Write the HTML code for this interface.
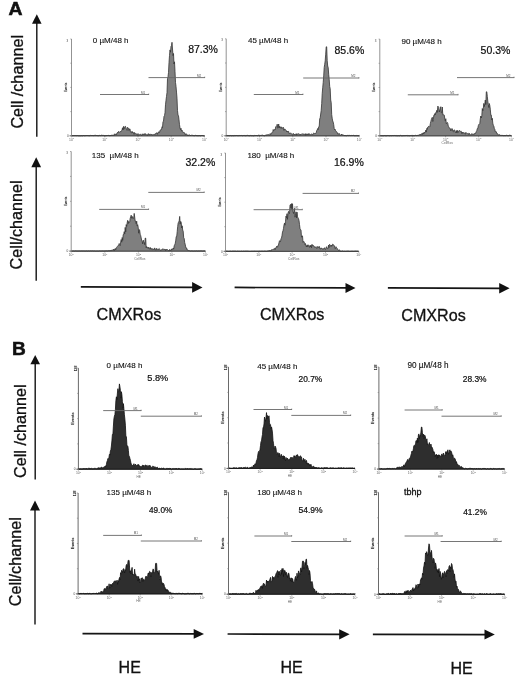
<!DOCTYPE html><html><head><meta charset="utf-8"><style>html,body{margin:0;padding:0;background:#fff;width:520px;height:676px;overflow:hidden}svg{display:block;filter:grayscale(1) blur(0.3px)}</style></head><body>
<svg width="520" height="676" viewBox="0 0 520 676" font-family="'Liberation Sans', sans-serif">
<rect width="520" height="676" fill="#fff"/>
<text transform="translate(8.6,15.0) scale(1.06,1)" font-size="18.3" font-weight="bold" fill="#111" stroke="#111" stroke-width="0.55">A</text>
<text transform="translate(11.9,354.5) scale(1.06,1)" font-size="18" font-weight="bold" fill="#111" stroke="#111" stroke-width="0.55">B</text>
<line x1="36.8" y1="22.8" x2="36.8" y2="136.7" stroke="#111" stroke-width="1.4"/>
<polygon points="36.8,14.2 32.0,23.8 41.6,23.8" fill="#111"/>
<line x1="36.2" y1="166.3" x2="36.2" y2="280.8" stroke="#111" stroke-width="1.4"/>
<polygon points="36.2,157.2 31.3,167.3 41.1,167.3" fill="#111"/>
<line x1="35.2" y1="363.3" x2="35.2" y2="479.4" stroke="#111" stroke-width="1.4"/>
<polygon points="35.2,355.0 30.4,364.3 40.0,364.3" fill="#111"/>
<line x1="35.0" y1="509.5" x2="35.0" y2="624.5" stroke="#111" stroke-width="1.4"/>
<polygon points="35.0,500.4 30.0,510.5 40.0,510.5" fill="#111"/>
<text transform="translate(22.6,128.6) rotate(-90)" font-size="16.20" fill="#111"  stroke="#111" stroke-width="0.30">Cell /channel</text>
<text transform="translate(22.2,269.4) rotate(-90)" font-size="16.20" fill="#111"  stroke="#111" stroke-width="0.30">Cell/channel</text>
<text transform="translate(25.8,478.0) rotate(-90)" font-size="16.20" fill="#111"  stroke="#111" stroke-width="0.30">Cell /channel</text>
<text transform="translate(21.1,606.3) rotate(-90)" font-size="16.20" fill="#111"  stroke="#111" stroke-width="0.30">Cell/channel</text>
<line x1="80.8" y1="286.90" x2="193.1" y2="287.40" stroke="#151515" stroke-width="1.7"/>
<polygon points="202.5,287.4 192.1,282.1 192.1,292.7" fill="#111"/>
<line x1="234.6" y1="287.45" x2="346.5" y2="287.90" stroke="#151515" stroke-width="1.7"/>
<polygon points="355.5,287.9 345.5,282.9 345.5,292.9" fill="#111"/>
<line x1="387.9" y1="287.90" x2="500.2" y2="288.30" stroke="#151515" stroke-width="1.7"/>
<polygon points="509.6,288.3 499.2,283.1 499.2,293.5" fill="#111"/>
<line x1="82.5" y1="633.70" x2="194.7" y2="633.90" stroke="#151515" stroke-width="1.7"/>
<polygon points="204.0,633.9 193.7,629.0 193.7,638.8" fill="#111"/>
<line x1="227.6" y1="634.00" x2="340.2" y2="634.30" stroke="#151515" stroke-width="1.7"/>
<polygon points="349.6,634.3 339.2,629.2 339.2,639.4" fill="#111"/>
<line x1="372.9" y1="634.40" x2="485.5" y2="634.60" stroke="#151515" stroke-width="1.7"/>
<polygon points="494.8,634.6 484.5,629.6 484.5,639.6" fill="#111"/>
<text x="96.5" y="320.1" font-size="16.20" fill="#111"  stroke="#111" stroke-width="0.30">CMXRos</text>
<text x="260.0" y="320.4" font-size="16.10" fill="#111"  stroke="#111" stroke-width="0.30">CMXRos</text>
<text x="401.3" y="321.1" font-size="16.10" fill="#111"  stroke="#111" stroke-width="0.30">CMXRos</text>
<text x="118.6" y="672.9" font-size="16.00" fill="#111"  stroke="#111" stroke-width="0.30">HE</text>
<text x="280.4" y="673.3" font-size="16.00" fill="#111"  stroke="#111" stroke-width="0.30">HE</text>
<text x="450.5" y="673.5" font-size="16.00" fill="#111"  stroke="#111" stroke-width="0.30">HE</text>
<line x1="71.5" y1="39.0" x2="71.5" y2="135.8" stroke="#808080" stroke-width="0.85"/>
<line x1="69.5" y1="135.8" x2="204.5" y2="135.8" stroke="#666" stroke-width="1.0"/>
<text x="66.9" y="137.0" font-size="3.20" fill="#444" >0</text>
<line x1="70.3" y1="135.8" x2="71.5" y2="135.8" stroke="#777" stroke-width="0.6"/>
<line x1="70.3" y1="111.6" x2="71.5" y2="111.6" stroke="#777" stroke-width="0.6"/>
<line x1="70.3" y1="87.4" x2="71.5" y2="87.4" stroke="#777" stroke-width="0.6"/>
<line x1="70.3" y1="63.2" x2="71.5" y2="63.2" stroke="#777" stroke-width="0.6"/>
<line x1="70.3" y1="39.0" x2="71.5" y2="39.0" stroke="#777" stroke-width="0.6"/>
<line x1="71.5" y1="135.8" x2="71.5" y2="137.3" stroke="#777" stroke-width="0.6"/>
<text x="69.0" y="140.6" font-size="3.40" fill="#666" >10<tspan font-size="2.4" dy="-1.2">0</tspan></text>
<line x1="104.8" y1="135.8" x2="104.8" y2="137.3" stroke="#777" stroke-width="0.6"/>
<text x="102.2" y="140.6" font-size="3.40" fill="#666" >10<tspan font-size="2.4" dy="-1.2">1</tspan></text>
<line x1="138.0" y1="135.8" x2="138.0" y2="137.3" stroke="#777" stroke-width="0.6"/>
<text x="135.5" y="140.6" font-size="3.40" fill="#666" >10<tspan font-size="2.4" dy="-1.2">2</tspan></text>
<line x1="171.2" y1="135.8" x2="171.2" y2="137.3" stroke="#777" stroke-width="0.6"/>
<text x="168.8" y="140.6" font-size="3.40" fill="#666" >10<tspan font-size="2.4" dy="-1.2">3</tspan></text>
<line x1="204.5" y1="135.8" x2="204.5" y2="137.3" stroke="#777" stroke-width="0.6"/>
<text x="202.0" y="140.6" font-size="3.40" fill="#666" >10<tspan font-size="2.4" dy="-1.2">4</tspan></text>
<text transform="translate(66.9,92.0) rotate(-90)" font-size="3.00" fill="#333"  stroke="#333" stroke-width="0.15">Events</text>
<text x="66.5" y="41.5" font-size="3.00" fill="#444" >3</text>
<path d="M72.0,135.8 L72.0,135.7 L72.5,135.7 L73.0,135.7 L73.5,135.6 L74.0,135.8 L74.5,135.6 L75.0,135.7 L75.5,135.6 L76.0,135.6 L76.5,135.7 L77.0,135.8 L77.5,135.6 L78.0,135.8 L78.5,135.8 L79.0,135.7 L79.5,135.8 L80.0,135.8 L80.5,135.8 L81.0,135.5 L81.5,135.7 L82.0,135.4 L82.5,135.8 L83.0,135.5 L83.5,135.5 L84.0,135.5 L84.5,135.7 L85.0,135.4 L85.5,135.6 L86.0,135.8 L86.5,135.5 L87.0,135.8 L87.5,135.5 L88.0,135.7 L88.5,135.6 L89.0,135.6 L89.5,135.7 L90.0,135.8 L90.5,135.3 L91.0,135.7 L91.5,135.5 L92.0,135.4 L92.5,135.5 L93.0,135.5 L93.5,135.6 L94.0,135.7 L94.5,135.4 L95.0,135.3 L95.5,135.3 L96.0,135.4 L96.5,135.5 L97.0,135.7 L97.5,135.6 L98.0,135.5 L98.5,135.7 L99.0,135.5 L99.5,135.4 L100.0,135.8 L100.5,135.7 L101.0,135.1 L101.5,135.2 L102.0,135.6 L102.5,135.4 L103.0,135.8 L103.5,135.3 L104.0,135.7 L104.5,135.7 L105.0,135.7 L105.5,135.8 L106.0,135.2 L106.5,135.6 L107.0,135.8 L107.5,135.5 L108.0,135.6 L108.5,135.4 L109.0,135.1 L109.5,135.8 L110.0,135.6 L110.5,135.6 L111.0,135.0 L111.5,135.4 L112.0,134.8 L112.5,135.4 L113.0,135.2 L113.5,135.0 L114.0,135.5 L114.5,133.8 L115.0,134.7 L115.5,134.5 L116.0,133.8 L116.5,134.7 L117.0,133.1 L117.5,132.4 L118.0,133.0 L118.5,131.5 L119.0,131.7 L119.5,132.2 L120.0,132.2 L120.5,131.2 L121.0,131.7 L121.5,130.7 L122.0,130.0 L122.5,127.8 L123.0,130.0 L123.5,126.4 L124.0,129.1 L124.5,127.2 L125.0,126.4 L125.5,126.4 L126.0,128.0 L126.5,129.3 L127.0,130.4 L127.5,127.3 L128.0,128.1 L128.5,128.3 L129.0,130.5 L129.5,128.9 L130.0,128.9 L130.5,132.2 L131.0,132.9 L131.5,132.9 L132.0,131.2 L132.5,132.8 L133.0,132.1 L133.5,133.0 L134.0,134.4 L134.5,132.6 L135.0,132.8 L135.5,134.2 L136.0,133.6 L136.5,134.0 L137.0,134.7 L137.5,135.2 L138.0,133.5 L138.5,135.2 L139.0,134.7 L139.5,134.9 L140.0,134.4 L140.5,133.9 L141.0,134.9 L141.5,135.1 L142.0,135.5 L142.5,133.8 L143.0,134.4 L143.5,135.0 L144.0,133.6 L144.5,133.9 L145.0,134.9 L145.5,133.7 L146.0,134.1 L146.5,134.9 L147.0,134.9 L147.5,135.3 L148.0,133.7 L148.5,134.1 L149.0,133.8 L149.5,134.8 L150.0,134.6 L150.5,133.9 L151.0,134.7 L151.5,134.2 L152.0,135.0 L152.5,135.0 L153.0,134.4 L153.5,134.9 L154.0,134.4 L154.5,133.9 L155.0,134.7 L155.5,133.6 L156.0,133.1 L156.5,132.9 L157.0,133.0 L157.5,134.3 L158.0,132.3 L158.5,132.2 L159.0,131.8 L159.5,132.5 L160.0,130.6 L160.5,129.8 L161.0,129.7 L161.5,129.6 L162.0,126.8 L162.5,127.5 L163.0,121.5 L163.5,121.2 L164.0,116.3 L164.5,115.7 L165.0,112.7 L165.5,104.8 L166.0,100.2 L166.5,96.4 L167.0,92.6 L167.5,78.6 L168.0,76.7 L168.5,72.6 L169.0,62.6 L169.5,55.4 L170.0,49.9 L170.5,52.2 L171.0,46.3 L171.5,45.7 L172.0,42.3 L172.5,49.0 L173.0,55.6 L173.5,53.5 L174.0,64.0 L174.5,61.8 L175.0,71.3 L175.5,82.5 L176.0,86.2 L176.5,92.1 L177.0,98.2 L177.5,110.6 L178.0,115.0 L178.5,115.9 L179.0,119.8 L179.5,124.7 L180.0,127.6 L180.5,129.7 L181.0,128.3 L181.5,131.2 L182.0,130.2 L182.5,131.2 L183.0,132.1 L183.5,132.9 L184.0,132.3 L184.5,133.0 L185.0,134.6 L185.5,134.6 L186.0,133.6 L186.5,134.2 L187.0,135.2 L187.5,134.9 L188.0,135.6 L188.5,135.1 L189.0,134.8 L189.5,134.8 L190.0,135.4 L190.5,135.5 L191.0,135.5 L191.5,135.0 L192.0,134.9 L192.5,135.3 L193.0,135.2 L193.5,135.6 L194.0,135.7 L194.5,135.7 L195.0,135.4 L195.5,135.2 L196.0,135.8 L196.5,135.6 L197.0,135.6 L197.5,135.7 L198.0,135.6 L198.5,135.7 L199.0,135.4 L199.5,135.6 L200.0,135.7 L200.5,135.8 L201.0,135.5 L201.5,135.5 L202.0,135.4 L202.5,135.5 L203.0,135.4 L203.5,135.8 L204.0,135.6 L204.5,135.8 L204.5,135.8 Z" fill="#7f7f7f" stroke="#333" stroke-width="0.80" stroke-linejoin="round"/>
<line x1="100.0" y1="94.5" x2="149.0" y2="94.5" stroke="#666" stroke-width="0.9"/>
<line x1="148.7" y1="93.5" x2="148.7" y2="94.9" stroke="#666" stroke-width="0.6"/>
<text x="141.0" y="93.5" font-size="3.00" fill="#555" >M1</text>
<line x1="148.5" y1="77.6" x2="205.0" y2="77.6" stroke="#666" stroke-width="0.9"/>
<line x1="204.7" y1="76.6" x2="204.7" y2="78.0" stroke="#666" stroke-width="0.6"/>
<text x="197.0" y="76.6" font-size="3.00" fill="#555" >M2</text>
<text x="92.8" y="43.2" font-size="8.00" fill="#111"  stroke="#111" stroke-width="0.12">0 µM/48 h</text>
<text x="188.2" y="52.8" font-size="10.50" fill="#111"  stroke="#111" stroke-width="0.22">87.3%</text>
<line x1="226.2" y1="38.8" x2="226.2" y2="135.8" stroke="#808080" stroke-width="0.85"/>
<line x1="224.2" y1="135.8" x2="359.3" y2="135.8" stroke="#666" stroke-width="1.0"/>
<text x="221.6" y="137.0" font-size="3.20" fill="#444" >0</text>
<line x1="225.0" y1="135.8" x2="226.2" y2="135.8" stroke="#777" stroke-width="0.6"/>
<line x1="225.0" y1="111.6" x2="226.2" y2="111.6" stroke="#777" stroke-width="0.6"/>
<line x1="225.0" y1="87.3" x2="226.2" y2="87.3" stroke="#777" stroke-width="0.6"/>
<line x1="225.0" y1="63.0" x2="226.2" y2="63.0" stroke="#777" stroke-width="0.6"/>
<line x1="225.0" y1="38.8" x2="226.2" y2="38.8" stroke="#777" stroke-width="0.6"/>
<line x1="226.2" y1="135.8" x2="226.2" y2="137.3" stroke="#777" stroke-width="0.6"/>
<text x="223.7" y="140.6" font-size="3.40" fill="#666" >10<tspan font-size="2.4" dy="-1.2">0</tspan></text>
<line x1="259.5" y1="135.8" x2="259.5" y2="137.3" stroke="#777" stroke-width="0.6"/>
<text x="257.0" y="140.6" font-size="3.40" fill="#666" >10<tspan font-size="2.4" dy="-1.2">1</tspan></text>
<line x1="292.8" y1="135.8" x2="292.8" y2="137.3" stroke="#777" stroke-width="0.6"/>
<text x="290.2" y="140.6" font-size="3.40" fill="#666" >10<tspan font-size="2.4" dy="-1.2">2</tspan></text>
<line x1="326.0" y1="135.8" x2="326.0" y2="137.3" stroke="#777" stroke-width="0.6"/>
<text x="323.5" y="140.6" font-size="3.40" fill="#666" >10<tspan font-size="2.4" dy="-1.2">3</tspan></text>
<line x1="359.3" y1="135.8" x2="359.3" y2="137.3" stroke="#777" stroke-width="0.6"/>
<text x="356.8" y="140.6" font-size="3.40" fill="#666" >10<tspan font-size="2.4" dy="-1.2">4</tspan></text>
<text transform="translate(221.6,91.9) rotate(-90)" font-size="3.00" fill="#333"  stroke="#333" stroke-width="0.15">Events</text>
<text x="221.2" y="41.3" font-size="3.00" fill="#444" >3</text>
<path d="M226.7,135.8 L226.7,135.5 L227.2,135.8 L227.7,135.5 L228.2,135.7 L228.7,135.6 L229.2,135.7 L229.7,135.7 L230.2,135.5 L230.7,135.6 L231.2,135.7 L231.7,135.8 L232.2,135.7 L232.7,135.6 L233.2,135.6 L233.7,135.8 L234.2,135.8 L234.7,135.5 L235.2,135.7 L235.7,135.5 L236.2,135.5 L236.7,135.5 L237.2,135.6 L237.7,135.6 L238.2,135.5 L238.7,135.7 L239.2,135.5 L239.7,135.6 L240.2,135.6 L240.7,135.5 L241.2,135.5 L241.7,135.5 L242.2,135.8 L242.7,135.6 L243.2,135.5 L243.7,135.5 L244.2,135.4 L244.7,135.6 L245.2,135.5 L245.7,135.8 L246.2,135.5 L246.7,135.6 L247.2,135.4 L247.7,135.4 L248.2,135.6 L248.7,135.6 L249.2,135.6 L249.7,135.8 L250.2,135.4 L250.7,135.6 L251.2,135.5 L251.7,135.8 L252.2,135.7 L252.7,135.7 L253.2,135.8 L253.7,135.8 L254.2,135.4 L254.7,135.7 L255.2,135.7 L255.7,135.2 L256.2,135.8 L256.7,135.3 L257.2,135.8 L257.7,135.8 L258.2,135.2 L258.7,135.1 L259.2,135.1 L259.7,135.5 L260.2,135.3 L260.7,135.8 L261.2,135.2 L261.7,135.3 L262.2,135.4 L262.7,135.0 L263.2,135.3 L263.7,135.8 L264.2,135.8 L264.7,135.8 L265.2,135.7 L265.7,135.1 L266.2,134.6 L266.7,135.5 L267.2,135.3 L267.7,134.5 L268.2,134.5 L268.7,134.7 L269.2,135.4 L269.7,134.5 L270.2,133.5 L270.7,134.6 L271.2,133.9 L271.7,132.7 L272.2,132.7 L272.7,132.4 L273.2,129.5 L273.7,130.7 L274.2,129.8 L274.7,129.5 L275.2,130.0 L275.7,126.7 L276.2,127.0 L276.7,126.4 L277.2,124.2 L277.7,128.1 L278.2,127.7 L278.7,124.0 L279.2,128.0 L279.7,126.2 L280.2,127.2 L280.7,128.2 L281.2,126.8 L281.7,128.5 L282.2,128.5 L282.7,128.1 L283.2,127.1 L283.7,130.3 L284.2,130.5 L284.7,128.8 L285.2,129.6 L285.7,129.9 L286.2,130.3 L286.7,131.9 L287.2,131.1 L287.7,132.1 L288.2,131.2 L288.7,131.6 L289.2,133.7 L289.7,133.5 L290.2,133.6 L290.7,132.8 L291.2,133.4 L291.7,134.0 L292.2,134.8 L292.7,135.2 L293.2,133.3 L293.7,134.2 L294.2,134.8 L294.7,134.0 L295.2,134.5 L295.7,135.1 L296.2,133.6 L296.7,135.1 L297.2,134.2 L297.7,133.9 L298.2,134.2 L298.7,133.5 L299.2,134.6 L299.7,134.8 L300.2,134.1 L300.7,135.0 L301.2,134.6 L301.7,133.9 L302.2,134.2 L302.7,133.8 L303.2,134.0 L303.7,133.9 L304.2,134.9 L304.7,134.6 L305.2,133.6 L305.7,135.3 L306.2,133.9 L306.7,134.0 L307.2,135.0 L307.7,134.0 L308.2,133.5 L308.7,134.9 L309.2,134.0 L309.7,133.8 L310.2,134.6 L310.7,134.8 L311.2,134.3 L311.7,133.9 L312.2,134.3 L312.7,134.9 L313.2,133.5 L313.7,133.1 L314.2,133.3 L314.7,133.7 L315.2,133.1 L315.7,133.5 L316.2,132.9 L316.7,130.6 L317.2,130.0 L317.7,128.5 L318.2,129.7 L318.7,126.8 L319.2,126.7 L319.7,118.9 L320.2,117.8 L320.7,114.0 L321.2,110.4 L321.7,103.6 L322.2,93.8 L322.7,87.8 L323.2,82.5 L323.7,75.9 L324.2,67.5 L324.7,64.3 L325.2,60.8 L325.7,54.2 L326.2,46.8 L326.7,46.8 L327.2,60.6 L327.7,66.0 L328.2,67.6 L328.7,74.3 L329.2,79.2 L329.7,86.4 L330.2,88.7 L330.7,100.0 L331.2,102.4 L331.7,114.5 L332.2,118.2 L332.7,121.0 L333.2,122.1 L333.7,124.6 L334.2,128.4 L334.7,130.0 L335.2,129.4 L335.7,130.9 L336.2,131.6 L336.7,131.7 L337.2,132.4 L337.7,133.9 L338.2,133.5 L338.7,134.4 L339.2,133.4 L339.7,134.2 L340.2,134.8 L340.7,135.4 L341.2,135.0 L341.7,134.0 L342.2,134.7 L342.7,135.1 L343.2,134.8 L343.7,135.4 L344.2,135.7 L344.7,135.0 L345.2,135.8 L345.7,135.6 L346.2,135.7 L346.7,135.7 L347.2,135.4 L347.7,135.5 L348.2,135.8 L348.7,135.3 L349.2,135.4 L349.7,135.4 L350.2,135.6 L350.7,135.5 L351.2,135.3 L351.7,135.6 L352.2,135.6 L352.7,135.5 L353.2,135.5 L353.7,135.3 L354.2,135.7 L354.7,135.7 L355.2,135.7 L355.7,135.7 L356.2,135.4 L356.7,135.8 L357.2,135.6 L357.7,135.8 L358.2,135.8 L358.7,135.7 L359.2,135.4 L359.2,135.8 Z" fill="#7f7f7f" stroke="#333" stroke-width="0.80" stroke-linejoin="round"/>
<line x1="253.8" y1="94.5" x2="303.2" y2="94.5" stroke="#666" stroke-width="0.9"/>
<line x1="302.9" y1="93.5" x2="302.9" y2="94.9" stroke="#666" stroke-width="0.6"/>
<text x="295.2" y="93.5" font-size="3.00" fill="#555" >M1</text>
<line x1="303.2" y1="78.0" x2="359.2" y2="78.0" stroke="#666" stroke-width="0.9"/>
<line x1="358.9" y1="77.0" x2="358.9" y2="78.4" stroke="#666" stroke-width="0.6"/>
<text x="351.2" y="77.0" font-size="3.00" fill="#555" >M2</text>
<text x="248.0" y="43.4" font-size="8.00" fill="#111"  stroke="#111" stroke-width="0.12">45 µM/48 h</text>
<text x="334.5" y="54.0" font-size="10.50" fill="#111"  stroke="#111" stroke-width="0.22">85.6%</text>
<line x1="379.8" y1="39.1" x2="379.8" y2="135.8" stroke="#808080" stroke-width="0.85"/>
<line x1="377.8" y1="135.8" x2="511.5" y2="135.8" stroke="#666" stroke-width="1.0"/>
<text x="375.2" y="137.0" font-size="3.20" fill="#444" >0</text>
<line x1="378.6" y1="135.8" x2="379.8" y2="135.8" stroke="#777" stroke-width="0.6"/>
<line x1="378.6" y1="111.6" x2="379.8" y2="111.6" stroke="#777" stroke-width="0.6"/>
<line x1="378.6" y1="87.5" x2="379.8" y2="87.5" stroke="#777" stroke-width="0.6"/>
<line x1="378.6" y1="63.3" x2="379.8" y2="63.3" stroke="#777" stroke-width="0.6"/>
<line x1="378.6" y1="39.1" x2="379.8" y2="39.1" stroke="#777" stroke-width="0.6"/>
<line x1="379.8" y1="135.8" x2="379.8" y2="137.3" stroke="#777" stroke-width="0.6"/>
<text x="377.3" y="140.6" font-size="3.40" fill="#666" >10<tspan font-size="2.4" dy="-1.2">0</tspan></text>
<line x1="412.7" y1="135.8" x2="412.7" y2="137.3" stroke="#777" stroke-width="0.6"/>
<text x="410.2" y="140.6" font-size="3.40" fill="#666" >10<tspan font-size="2.4" dy="-1.2">1</tspan></text>
<line x1="445.6" y1="135.8" x2="445.6" y2="137.3" stroke="#777" stroke-width="0.6"/>
<text x="443.1" y="140.6" font-size="3.40" fill="#666" >10<tspan font-size="2.4" dy="-1.2">2</tspan></text>
<line x1="478.6" y1="135.8" x2="478.6" y2="137.3" stroke="#777" stroke-width="0.6"/>
<text x="476.1" y="140.6" font-size="3.40" fill="#666" >10<tspan font-size="2.4" dy="-1.2">3</tspan></text>
<line x1="511.5" y1="135.8" x2="511.5" y2="137.3" stroke="#777" stroke-width="0.6"/>
<text x="509.0" y="140.6" font-size="3.40" fill="#666" >10<tspan font-size="2.4" dy="-1.2">4</tspan></text>
<text transform="translate(375.2,92.0) rotate(-90)" font-size="3.00" fill="#333"  stroke="#333" stroke-width="0.15">Events</text>
<text x="374.8" y="41.6" font-size="3.00" fill="#444" >3</text>
<text x="441.6" y="144.3" font-size="3.20" fill="#666" >CellRos</text>
<path d="M380.3,135.8 L380.3,135.7 L380.8,135.7 L381.3,135.8 L381.8,135.6 L382.3,135.8 L382.8,135.6 L383.3,135.7 L383.8,135.8 L384.3,135.6 L384.8,135.6 L385.3,135.8 L385.8,135.6 L386.3,135.8 L386.8,135.6 L387.3,135.6 L387.8,135.5 L388.3,135.6 L388.8,135.6 L389.3,135.7 L389.8,135.8 L390.3,135.6 L390.8,135.7 L391.3,135.7 L391.8,135.7 L392.3,135.6 L392.8,135.5 L393.3,135.5 L393.8,135.7 L394.3,135.5 L394.8,135.6 L395.3,135.7 L395.8,135.6 L396.3,135.8 L396.8,135.5 L397.3,135.7 L397.8,135.8 L398.3,135.7 L398.8,135.7 L399.3,135.8 L399.8,135.7 L400.3,135.4 L400.8,135.5 L401.3,135.8 L401.8,135.7 L402.3,135.8 L402.8,135.7 L403.3,135.7 L403.8,135.6 L404.3,135.6 L404.8,135.7 L405.3,135.6 L405.8,135.6 L406.3,135.5 L406.8,135.6 L407.3,135.8 L407.8,135.4 L408.3,135.7 L408.8,135.6 L409.3,135.8 L409.8,135.7 L410.3,135.6 L410.8,135.6 L411.3,135.4 L411.8,135.8 L412.3,135.4 L412.8,135.7 L413.3,135.6 L413.8,135.7 L414.3,135.6 L414.8,135.7 L415.3,135.4 L415.8,135.4 L416.3,135.7 L416.8,135.2 L417.3,135.7 L417.8,135.2 L418.3,135.5 L418.8,134.8 L419.3,134.7 L419.8,135.0 L420.3,134.2 L420.8,135.2 L421.3,134.5 L421.8,133.5 L422.3,134.7 L422.8,133.0 L423.3,132.8 L423.8,134.1 L424.3,132.0 L424.8,132.7 L425.3,132.1 L425.8,130.1 L426.3,132.1 L426.8,128.4 L427.3,129.4 L427.8,127.0 L428.3,126.6 L428.8,126.2 L429.3,127.1 L429.8,126.6 L430.3,123.7 L430.8,121.6 L431.3,119.6 L431.8,118.2 L432.3,117.3 L432.8,121.5 L433.3,119.7 L433.8,115.3 L434.3,115.7 L434.8,113.6 L435.3,114.8 L435.8,112.4 L436.3,112.7 L436.8,110.3 L437.3,112.4 L437.8,106.1 L438.3,106.7 L438.8,107.4 L439.3,112.0 L439.8,110.0 L440.3,108.9 L440.8,106.7 L441.3,112.7 L441.8,112.9 L442.3,107.0 L442.8,114.8 L443.3,114.4 L443.8,115.3 L444.3,115.2 L444.8,119.2 L445.3,120.8 L445.8,118.7 L446.3,123.8 L446.8,123.2 L447.3,122.4 L447.8,123.4 L448.3,126.3 L448.8,126.7 L449.3,127.8 L449.8,128.6 L450.3,128.6 L450.8,131.0 L451.3,129.8 L451.8,128.6 L452.3,128.8 L452.8,131.4 L453.3,131.8 L453.8,130.1 L454.3,129.9 L454.8,130.3 L455.3,132.3 L455.8,132.9 L456.3,130.6 L456.8,132.8 L457.3,130.3 L457.8,132.7 L458.3,132.5 L458.8,130.9 L459.3,130.3 L459.8,131.2 L460.3,131.2 L460.8,131.6 L461.3,131.3 L461.8,133.6 L462.3,132.1 L462.8,133.5 L463.3,133.3 L463.8,132.3 L464.3,133.4 L464.8,133.6 L465.3,134.3 L465.8,132.4 L466.3,133.2 L466.8,133.2 L467.3,133.4 L467.8,133.8 L468.3,133.4 L468.8,134.7 L469.3,133.3 L469.8,134.2 L470.3,134.9 L470.8,134.7 L471.3,134.7 L471.8,133.6 L472.3,134.4 L472.8,134.1 L473.3,133.9 L473.8,134.6 L474.3,133.6 L474.8,134.0 L475.3,133.0 L475.8,132.9 L476.3,131.5 L476.8,130.6 L477.3,128.5 L477.8,128.5 L478.3,125.7 L478.8,124.4 L479.3,124.3 L479.8,123.5 L480.3,118.9 L480.8,116.0 L481.3,118.0 L481.8,115.7 L482.3,108.5 L482.8,110.8 L483.3,108.5 L483.8,103.4 L484.3,106.6 L484.8,103.8 L485.3,100.0 L485.8,104.5 L486.3,91.8 L486.8,91.8 L487.3,96.4 L487.8,101.1 L488.3,104.6 L488.8,107.5 L489.3,103.5 L489.8,105.5 L490.3,109.2 L490.8,115.1 L491.3,115.1 L491.8,120.0 L492.3,118.3 L492.8,123.2 L493.3,125.3 L493.8,125.9 L494.3,128.4 L494.8,129.2 L495.3,131.8 L495.8,131.6 L496.3,131.7 L496.8,133.6 L497.3,133.5 L497.8,133.9 L498.3,134.9 L498.8,135.2 L499.3,134.5 L499.8,134.9 L500.3,135.5 L500.8,135.0 L501.3,135.4 L501.8,135.1 L502.3,135.6 L502.8,135.3 L503.3,135.5 L503.8,135.8 L504.3,135.8 L504.8,135.2 L505.3,135.8 L505.8,135.5 L506.3,135.2 L506.8,135.5 L507.3,135.7 L507.8,135.5 L508.3,135.8 L508.8,135.4 L509.3,135.2 L509.8,135.3 L510.3,135.5 L510.8,135.3 L511.3,135.5 L511.3,135.8 Z" fill="#7f7f7f" stroke="#333" stroke-width="0.80" stroke-linejoin="round"/>
<line x1="407.8" y1="94.8" x2="458.3" y2="94.8" stroke="#666" stroke-width="0.9"/>
<line x1="458.0" y1="93.8" x2="458.0" y2="95.2" stroke="#666" stroke-width="0.6"/>
<text x="450.3" y="93.8" font-size="3.00" fill="#555" >M1</text>
<line x1="457.0" y1="77.6" x2="514.3" y2="77.6" stroke="#666" stroke-width="0.9"/>
<line x1="514.0" y1="76.6" x2="514.0" y2="78.0" stroke="#666" stroke-width="0.6"/>
<text x="506.3" y="76.6" font-size="3.00" fill="#555" >M2</text>
<text x="401.5" y="44.0" font-size="8.00" fill="#111"  stroke="#111" stroke-width="0.12">90 µM/48 h</text>
<text x="480.6" y="54.0" font-size="10.50" fill="#111"  stroke="#111" stroke-width="0.22">50.3%</text>
<line x1="71.2" y1="151.5" x2="71.2" y2="251.1" stroke="#808080" stroke-width="0.85"/>
<line x1="69.2" y1="251.1" x2="205.5" y2="251.1" stroke="#666" stroke-width="1.0"/>
<text x="66.6" y="252.3" font-size="3.20" fill="#444" >0</text>
<line x1="70.0" y1="251.1" x2="71.2" y2="251.1" stroke="#777" stroke-width="0.6"/>
<line x1="70.0" y1="226.2" x2="71.2" y2="226.2" stroke="#777" stroke-width="0.6"/>
<line x1="70.0" y1="201.3" x2="71.2" y2="201.3" stroke="#777" stroke-width="0.6"/>
<line x1="70.0" y1="176.4" x2="71.2" y2="176.4" stroke="#777" stroke-width="0.6"/>
<line x1="70.0" y1="151.5" x2="71.2" y2="151.5" stroke="#777" stroke-width="0.6"/>
<line x1="71.2" y1="251.1" x2="71.2" y2="252.6" stroke="#777" stroke-width="0.6"/>
<text x="68.7" y="255.9" font-size="3.40" fill="#666" >10<tspan font-size="2.4" dy="-1.2">0</tspan></text>
<line x1="104.8" y1="251.1" x2="104.8" y2="252.6" stroke="#777" stroke-width="0.6"/>
<text x="102.3" y="255.9" font-size="3.40" fill="#666" >10<tspan font-size="2.4" dy="-1.2">1</tspan></text>
<line x1="138.4" y1="251.1" x2="138.4" y2="252.6" stroke="#777" stroke-width="0.6"/>
<text x="135.9" y="255.9" font-size="3.40" fill="#666" >10<tspan font-size="2.4" dy="-1.2">2</tspan></text>
<line x1="171.9" y1="251.1" x2="171.9" y2="252.6" stroke="#777" stroke-width="0.6"/>
<text x="169.4" y="255.9" font-size="3.40" fill="#666" >10<tspan font-size="2.4" dy="-1.2">3</tspan></text>
<line x1="205.5" y1="251.1" x2="205.5" y2="252.6" stroke="#777" stroke-width="0.6"/>
<text x="203.0" y="255.9" font-size="3.40" fill="#666" >10<tspan font-size="2.4" dy="-1.2">4</tspan></text>
<text transform="translate(66.6,205.9) rotate(-90)" font-size="3.00" fill="#333"  stroke="#333" stroke-width="0.15">Events</text>
<text x="66.2" y="154.0" font-size="3.00" fill="#444" >3</text>
<text x="134.3" y="259.6" font-size="3.20" fill="#666" >CellRos</text>
<path d="M71.7,251.1 L71.7,251.1 L72.2,251.1 L72.7,251.0 L73.2,250.9 L73.7,251.0 L74.2,251.0 L74.7,251.1 L75.2,250.9 L75.7,250.9 L76.2,251.1 L76.7,250.9 L77.2,250.9 L77.7,251.1 L78.2,250.9 L78.7,251.1 L79.2,251.1 L79.7,250.9 L80.2,251.0 L80.7,251.0 L81.2,250.9 L81.7,251.0 L82.2,251.0 L82.7,251.0 L83.2,251.1 L83.7,250.9 L84.2,251.0 L84.7,251.0 L85.2,251.1 L85.7,251.0 L86.2,251.0 L86.7,250.9 L87.2,251.0 L87.7,251.1 L88.2,251.0 L88.7,250.9 L89.2,251.0 L89.7,251.0 L90.2,250.9 L90.7,250.9 L91.2,250.9 L91.7,251.0 L92.2,250.9 L92.7,250.9 L93.2,250.9 L93.7,251.1 L94.2,251.1 L94.7,250.9 L95.2,251.1 L95.7,251.1 L96.2,251.0 L96.7,251.1 L97.2,251.0 L97.7,251.1 L98.2,251.1 L98.7,251.1 L99.2,251.0 L99.7,250.9 L100.2,251.0 L100.7,251.0 L101.2,251.0 L101.7,251.0 L102.2,251.0 L102.7,250.9 L103.2,250.9 L103.7,251.1 L104.2,251.1 L104.7,250.9 L105.2,251.1 L105.7,250.8 L106.2,250.9 L106.7,250.8 L107.2,250.8 L107.7,251.0 L108.2,251.0 L108.7,250.6 L109.2,250.9 L109.7,250.6 L110.2,250.6 L110.7,250.6 L111.2,250.8 L111.7,250.2 L112.2,249.8 L112.7,250.3 L113.2,249.7 L113.7,249.1 L114.2,250.7 L114.7,249.2 L115.2,248.5 L115.7,249.8 L116.2,247.8 L116.7,247.4 L117.2,246.7 L117.7,245.9 L118.2,245.4 L118.7,245.3 L119.2,243.5 L119.7,244.4 L120.2,245.7 L120.7,242.0 L121.2,239.5 L121.7,242.2 L122.2,237.5 L122.7,240.4 L123.2,234.5 L123.7,234.7 L124.2,231.7 L124.7,233.9 L125.2,227.4 L125.7,231.9 L126.2,224.6 L126.7,226.4 L127.2,222.6 L127.7,220.3 L128.2,223.6 L128.7,221.4 L129.2,222.6 L129.7,221.9 L130.2,218.2 L130.7,216.8 L131.2,215.2 L131.7,218.3 L132.2,216.5 L132.7,216.9 L133.2,218.9 L133.7,218.4 L134.2,213.4 L134.7,217.1 L135.2,221.2 L135.7,221.0 L136.2,223.7 L136.7,221.2 L137.2,225.8 L137.7,224.7 L138.2,227.3 L138.7,233.2 L139.2,229.5 L139.7,230.5 L140.2,234.3 L140.7,235.6 L141.2,237.9 L141.7,240.6 L142.2,241.2 L142.7,243.9 L143.2,240.1 L143.7,241.8 L144.2,242.4 L144.7,244.6 L145.2,238.1 L145.7,238.1 L146.2,247.9 L146.7,246.5 L147.2,247.0 L147.7,248.2 L148.2,248.3 L148.7,247.2 L149.2,249.1 L149.7,249.0 L150.2,247.4 L150.7,249.2 L151.2,248.3 L151.7,249.5 L152.2,249.8 L152.7,248.6 L153.2,249.2 L153.7,249.1 L154.2,249.9 L154.7,247.9 L155.2,249.1 L155.7,250.2 L156.2,249.6 L156.7,248.3 L157.2,250.1 L157.7,249.5 L158.2,249.9 L158.7,248.9 L159.2,248.5 L159.7,249.5 L160.2,250.4 L160.7,250.0 L161.2,250.1 L161.7,249.7 L162.2,249.0 L162.7,249.0 L163.2,248.8 L163.7,249.4 L164.2,249.2 L164.7,249.9 L165.2,249.2 L165.7,250.7 L166.2,249.3 L166.7,250.0 L167.2,249.4 L167.7,250.2 L168.2,250.6 L168.7,250.6 L169.2,250.8 L169.7,249.4 L170.2,250.5 L170.7,250.0 L171.2,250.4 L171.7,249.0 L172.2,248.8 L172.7,249.5 L173.2,248.1 L173.7,249.1 L174.2,245.8 L174.7,244.8 L175.2,243.5 L175.7,240.9 L176.2,236.6 L176.7,236.6 L177.2,231.6 L177.7,226.4 L178.2,222.8 L178.7,222.1 L179.2,220.8 L179.7,216.4 L180.2,224.1 L180.7,221.4 L181.2,222.3 L181.7,228.0 L182.2,225.8 L182.7,230.1 L183.2,231.2 L183.7,237.8 L184.2,238.5 L184.7,242.5 L185.2,244.3 L185.7,246.9 L186.2,248.1 L186.7,248.1 L187.2,250.0 L187.7,250.1 L188.2,250.5 L188.7,250.4 L189.2,250.9 L189.7,250.7 L190.2,251.0 L190.7,251.0 L191.2,250.9 L191.7,250.9 L192.2,250.9 L192.7,251.0 L193.2,251.0 L193.7,251.1 L194.2,250.9 L194.7,251.0 L195.2,250.9 L195.7,251.1 L196.2,250.9 L196.7,250.9 L197.2,251.1 L197.7,251.0 L198.2,251.0 L198.7,250.9 L199.2,250.9 L199.7,251.0 L200.2,250.9 L200.7,250.9 L201.2,250.9 L201.7,250.9 L202.2,251.1 L202.7,251.0 L203.2,250.9 L203.7,251.0 L204.2,251.0 L204.7,250.9 L205.2,250.9 L205.2,251.1 Z" fill="#7f7f7f" stroke="#333" stroke-width="0.80" stroke-linejoin="round"/>
<line x1="99.2" y1="209.4" x2="148.9" y2="209.4" stroke="#666" stroke-width="0.9"/>
<line x1="148.6" y1="208.4" x2="148.6" y2="209.8" stroke="#666" stroke-width="0.6"/>
<text x="140.9" y="208.4" font-size="3.00" fill="#555" >M1</text>
<line x1="148.3" y1="192.4" x2="204.5" y2="192.4" stroke="#666" stroke-width="0.9"/>
<line x1="204.2" y1="191.4" x2="204.2" y2="192.8" stroke="#666" stroke-width="0.6"/>
<text x="196.5" y="191.4" font-size="3.00" fill="#555" >M2</text>
<text x="91.8" y="157.6" font-size="8.00" fill="#111"  stroke="#111" stroke-width="0.12">135&#160;&#160;µM/48 h</text>
<text x="185.5" y="166.2" font-size="10.50" fill="#111"  stroke="#111" stroke-width="0.22">32.2%</text>
<line x1="225.5" y1="153.0" x2="225.5" y2="251.3" stroke="#808080" stroke-width="0.85"/>
<line x1="223.5" y1="251.3" x2="358.8" y2="251.3" stroke="#666" stroke-width="1.0"/>
<text x="220.9" y="252.5" font-size="3.20" fill="#444" >0</text>
<line x1="224.3" y1="251.3" x2="225.5" y2="251.3" stroke="#777" stroke-width="0.6"/>
<line x1="224.3" y1="226.7" x2="225.5" y2="226.7" stroke="#777" stroke-width="0.6"/>
<line x1="224.3" y1="202.2" x2="225.5" y2="202.2" stroke="#777" stroke-width="0.6"/>
<line x1="224.3" y1="177.6" x2="225.5" y2="177.6" stroke="#777" stroke-width="0.6"/>
<line x1="224.3" y1="153.0" x2="225.5" y2="153.0" stroke="#777" stroke-width="0.6"/>
<line x1="225.5" y1="251.3" x2="225.5" y2="252.8" stroke="#777" stroke-width="0.6"/>
<text x="223.0" y="256.1" font-size="3.40" fill="#666" >10<tspan font-size="2.4" dy="-1.2">0</tspan></text>
<line x1="258.8" y1="251.3" x2="258.8" y2="252.8" stroke="#777" stroke-width="0.6"/>
<text x="256.3" y="256.1" font-size="3.40" fill="#666" >10<tspan font-size="2.4" dy="-1.2">1</tspan></text>
<line x1="292.1" y1="251.3" x2="292.1" y2="252.8" stroke="#777" stroke-width="0.6"/>
<text x="289.6" y="256.1" font-size="3.40" fill="#666" >10<tspan font-size="2.4" dy="-1.2">2</tspan></text>
<line x1="325.5" y1="251.3" x2="325.5" y2="252.8" stroke="#777" stroke-width="0.6"/>
<text x="323.0" y="256.1" font-size="3.40" fill="#666" >10<tspan font-size="2.4" dy="-1.2">3</tspan></text>
<line x1="358.8" y1="251.3" x2="358.8" y2="252.8" stroke="#777" stroke-width="0.6"/>
<text x="356.3" y="256.1" font-size="3.40" fill="#666" >10<tspan font-size="2.4" dy="-1.2">4</tspan></text>
<text transform="translate(220.9,206.7) rotate(-90)" font-size="3.00" fill="#333"  stroke="#333" stroke-width="0.15">Events</text>
<text x="220.5" y="155.5" font-size="3.00" fill="#444" >3</text>
<text x="288.1" y="259.8" font-size="3.20" fill="#666" >CellRos</text>
<path d="M226.0,251.3 L226.0,251.1 L226.5,251.1 L227.0,251.1 L227.5,251.2 L228.0,251.1 L228.5,251.3 L229.0,251.2 L229.5,251.2 L230.0,251.2 L230.5,251.1 L231.0,251.3 L231.5,251.3 L232.0,251.3 L232.5,251.1 L233.0,251.2 L233.5,251.1 L234.0,251.1 L234.5,251.1 L235.0,251.1 L235.5,251.1 L236.0,251.2 L236.5,251.3 L237.0,251.3 L237.5,251.1 L238.0,251.1 L238.5,251.2 L239.0,251.2 L239.5,251.2 L240.0,251.3 L240.5,251.3 L241.0,251.1 L241.5,251.1 L242.0,251.2 L242.5,251.3 L243.0,251.1 L243.5,251.1 L244.0,251.1 L244.5,251.2 L245.0,251.1 L245.5,251.1 L246.0,251.1 L246.5,251.1 L247.0,251.2 L247.5,251.1 L248.0,251.1 L248.5,251.2 L249.0,251.3 L249.5,251.3 L250.0,251.1 L250.5,251.3 L251.0,251.2 L251.5,251.2 L252.0,251.1 L252.5,251.2 L253.0,251.1 L253.5,251.2 L254.0,251.3 L254.5,251.1 L255.0,251.1 L255.5,251.2 L256.0,251.1 L256.5,251.2 L257.0,251.1 L257.5,251.2 L258.0,251.1 L258.5,251.2 L259.0,251.3 L259.5,251.1 L260.0,251.1 L260.5,251.2 L261.0,251.3 L261.5,251.1 L262.0,251.1 L262.5,251.1 L263.0,251.1 L263.5,251.2 L264.0,251.2 L264.5,251.0 L265.0,251.1 L265.5,251.1 L266.0,251.3 L266.5,251.2 L267.0,251.0 L267.5,250.9 L268.0,251.1 L268.5,250.7 L269.0,251.0 L269.5,250.5 L270.0,250.2 L270.5,250.7 L271.0,251.0 L271.5,249.7 L272.0,249.8 L272.5,249.7 L273.0,249.2 L273.5,249.2 L274.0,248.8 L274.5,248.4 L275.0,249.8 L275.5,248.0 L276.0,248.1 L276.5,246.5 L277.0,246.3 L277.5,247.2 L278.0,245.3 L278.5,245.1 L279.0,242.6 L279.5,240.7 L280.0,241.3 L280.5,241.6 L281.0,238.7 L281.5,238.1 L282.0,235.4 L282.5,232.1 L283.0,230.7 L283.5,228.4 L284.0,225.0 L284.5,223.1 L285.0,225.2 L285.5,221.3 L286.0,216.1 L286.5,217.8 L287.0,213.7 L287.5,219.3 L288.0,213.2 L288.5,211.4 L289.0,213.0 L289.5,213.6 L290.0,205.2 L290.5,204.4 L291.0,208.0 L291.5,203.6 L292.0,209.5 L292.5,203.7 L293.0,211.3 L293.5,213.5 L294.0,211.2 L294.5,208.4 L295.0,217.2 L295.5,215.4 L296.0,211.8 L296.5,217.8 L297.0,212.1 L297.5,216.8 L298.0,217.8 L298.5,218.8 L299.0,220.5 L299.5,224.5 L300.0,228.5 L300.5,229.6 L301.0,229.9 L301.5,237.2 L302.0,236.2 L302.5,235.9 L303.0,242.3 L303.5,241.6 L304.0,241.5 L304.5,243.3 L305.0,244.7 L305.5,243.5 L306.0,245.8 L306.5,247.0 L307.0,245.1 L307.5,246.6 L308.0,244.7 L308.5,246.2 L309.0,246.3 L309.5,247.4 L310.0,245.3 L310.5,247.0 L311.0,245.1 L311.5,247.8 L312.0,244.3 L312.5,245.8 L313.0,245.3 L313.5,245.7 L314.0,245.9 L314.5,247.1 L315.0,247.8 L315.5,247.2 L316.0,246.6 L316.5,248.3 L317.0,248.7 L317.5,246.8 L318.0,246.3 L318.5,247.8 L319.0,247.3 L319.5,246.5 L320.0,249.1 L320.5,249.0 L321.0,247.9 L321.5,248.1 L322.0,249.0 L322.5,249.0 L323.0,248.6 L323.5,249.3 L324.0,248.0 L324.5,247.8 L325.0,249.4 L325.5,249.5 L326.0,247.9 L326.5,246.7 L327.0,248.0 L327.5,248.7 L328.0,248.6 L328.5,245.1 L329.0,247.6 L329.5,244.3 L330.0,244.9 L330.5,245.3 L331.0,246.6 L331.5,245.1 L332.0,246.1 L332.5,244.2 L333.0,244.6 L333.5,244.7 L334.0,245.9 L334.5,245.9 L335.0,248.6 L335.5,248.6 L336.0,246.7 L336.5,247.8 L337.0,248.6 L337.5,248.8 L338.0,249.7 L338.5,250.5 L339.0,250.2 L339.5,249.8 L340.0,250.9 L340.5,251.2 L341.0,251.1 L341.5,251.2 L342.0,251.0 L342.5,250.9 L343.0,251.0 L343.5,251.3 L344.0,251.2 L344.5,251.2 L345.0,251.3 L345.5,251.3 L346.0,251.1 L346.5,251.2 L347.0,251.2 L347.5,251.1 L348.0,251.3 L348.5,251.1 L349.0,251.2 L349.5,251.3 L350.0,251.1 L350.5,251.3 L351.0,251.1 L351.5,251.2 L352.0,251.3 L352.5,251.2 L353.0,251.3 L353.5,251.3 L354.0,251.3 L354.5,251.2 L355.0,251.3 L355.5,251.1 L356.0,251.2 L356.5,251.2 L357.0,251.2 L357.5,251.2 L358.0,251.1 L358.5,251.2 L358.5,251.3 Z" fill="#7f7f7f" stroke="#333" stroke-width="0.80" stroke-linejoin="round"/>
<line x1="253.6" y1="209.7" x2="302.6" y2="209.7" stroke="#666" stroke-width="0.9"/>
<line x1="302.3" y1="208.7" x2="302.3" y2="210.1" stroke="#666" stroke-width="0.6"/>
<text x="294.6" y="208.7" font-size="3.00" fill="#555" >M1</text>
<line x1="302.6" y1="193.4" x2="358.8" y2="193.4" stroke="#666" stroke-width="0.9"/>
<line x1="358.5" y1="192.4" x2="358.5" y2="193.8" stroke="#666" stroke-width="0.6"/>
<text x="350.8" y="192.4" font-size="3.00" fill="#555" >M2</text>
<text x="247.4" y="157.8" font-size="8.00" fill="#111"  stroke="#111" stroke-width="0.12">180&#160;&#160;µM/48 h</text>
<text x="334.0" y="166.2" font-size="10.50" fill="#111"  stroke="#111" stroke-width="0.22">16.9%</text>
<line x1="78.4" y1="368.1" x2="78.4" y2="469.2" stroke="#6a6a6a" stroke-width="1.00"/>
<line x1="76.4" y1="469.2" x2="202.3" y2="469.2" stroke="#4a4a4a" stroke-width="1.0"/>
<text x="73.8" y="470.4" font-size="3.20" fill="#444" >0</text>
<line x1="77.2" y1="469.2" x2="78.4" y2="469.2" stroke="#777" stroke-width="0.6"/>
<line x1="77.2" y1="443.9" x2="78.4" y2="443.9" stroke="#777" stroke-width="0.6"/>
<line x1="77.2" y1="418.6" x2="78.4" y2="418.6" stroke="#777" stroke-width="0.6"/>
<line x1="77.2" y1="393.4" x2="78.4" y2="393.4" stroke="#777" stroke-width="0.6"/>
<line x1="77.2" y1="368.1" x2="78.4" y2="368.1" stroke="#777" stroke-width="0.6"/>
<line x1="78.4" y1="469.2" x2="78.4" y2="470.7" stroke="#777" stroke-width="0.6"/>
<text x="75.9" y="474.0" font-size="3.40" fill="#666" >10<tspan font-size="2.4" dy="-1.2">0</tspan></text>
<line x1="109.4" y1="469.2" x2="109.4" y2="470.7" stroke="#777" stroke-width="0.6"/>
<text x="106.9" y="474.0" font-size="3.40" fill="#666" >10<tspan font-size="2.4" dy="-1.2">1</tspan></text>
<line x1="140.4" y1="469.2" x2="140.4" y2="470.7" stroke="#777" stroke-width="0.6"/>
<text x="137.9" y="474.0" font-size="3.40" fill="#666" >10<tspan font-size="2.4" dy="-1.2">2</tspan></text>
<line x1="171.3" y1="469.2" x2="171.3" y2="470.7" stroke="#777" stroke-width="0.6"/>
<text x="168.8" y="474.0" font-size="3.40" fill="#666" >10<tspan font-size="2.4" dy="-1.2">3</tspan></text>
<line x1="202.3" y1="469.2" x2="202.3" y2="470.7" stroke="#777" stroke-width="0.6"/>
<text x="199.8" y="474.0" font-size="3.40" fill="#666" >10<tspan font-size="2.4" dy="-1.2">4</tspan></text>
<text transform="translate(73.8,424.8) rotate(-90)" font-size="4.00" fill="#333"  stroke="#333" stroke-width="0.15">Events</text>
<text transform="translate(76.7,371.3) rotate(-90)" font-size="3.40" fill="#333"  stroke="#333" stroke-width="0.15">128</text>
<text x="136.4" y="477.7" font-size="3.20" fill="#666" >HE</text>
<path d="M78.9,469.2 L78.9,468.6 L79.4,468.9 L79.9,469.1 L80.4,468.8 L80.9,468.8 L81.4,468.9 L81.9,468.7 L82.4,468.7 L82.9,469.0 L83.4,468.6 L83.9,468.5 L84.4,468.5 L84.9,469.0 L85.4,468.5 L85.9,469.1 L86.4,468.6 L86.9,468.3 L87.4,468.9 L87.9,468.7 L88.4,468.3 L88.9,468.4 L89.4,468.2 L89.9,469.1 L90.4,468.5 L90.9,468.6 L91.4,468.2 L91.9,468.9 L92.4,468.8 L92.9,468.6 L93.4,468.7 L93.9,468.4 L94.4,468.3 L94.9,468.6 L95.4,468.4 L95.9,468.6 L96.4,468.7 L96.9,468.9 L97.4,468.2 L97.9,467.9 L98.4,467.8 L98.9,467.8 L99.4,468.1 L99.9,467.8 L100.4,468.0 L100.9,467.7 L101.4,467.0 L101.9,467.2 L102.4,468.0 L102.9,467.8 L103.4,467.5 L103.9,466.9 L104.4,467.5 L104.9,466.2 L105.4,467.1 L105.9,465.6 L106.4,464.5 L106.9,461.8 L107.4,460.6 L107.9,458.5 L108.4,458.4 L108.9,457.8 L109.4,454.4 L109.9,455.1 L110.4,450.9 L110.9,449.7 L111.4,446.0 L111.9,440.9 L112.4,434.4 L112.9,434.6 L113.4,426.1 L113.9,418.8 L114.4,416.1 L114.9,414.7 L115.4,409.6 L115.9,400.4 L116.4,396.8 L116.9,399.6 L117.4,393.1 L117.9,388.7 L118.4,391.6 L118.9,391.4 L119.4,383.9 L119.9,386.5 L120.4,390.4 L120.9,398.1 L121.4,391.7 L121.9,394.8 L122.4,401.7 L122.9,408.2 L123.4,403.6 L123.9,408.7 L124.4,414.8 L124.9,419.2 L125.4,425.2 L125.9,436.6 L126.4,436.7 L126.9,444.8 L127.4,446.4 L127.9,446.2 L128.4,450.5 L128.9,456.7 L129.4,456.4 L129.9,458.4 L130.4,460.2 L130.9,462.9 L131.4,464.3 L131.9,465.3 L132.4,465.5 L132.9,465.1 L133.4,465.4 L133.9,463.7 L134.4,465.8 L134.9,465.5 L135.4,464.1 L135.9,465.9 L136.4,465.4 L136.9,465.1 L137.4,465.0 L137.9,464.6 L138.4,464.6 L138.9,464.7 L139.4,466.2 L139.9,466.0 L140.4,466.5 L140.9,466.4 L141.4,466.6 L141.9,466.7 L142.4,465.2 L142.9,465.4 L143.4,466.3 L143.9,465.1 L144.4,466.5 L144.9,467.0 L145.4,465.1 L145.9,464.9 L146.4,465.5 L146.9,465.9 L147.4,466.4 L147.9,465.3 L148.4,465.7 L148.9,466.2 L149.4,465.6 L149.9,465.2 L150.4,465.9 L150.9,467.2 L151.4,467.5 L151.9,467.1 L152.4,467.4 L152.9,465.9 L153.4,466.4 L153.9,467.8 L154.4,468.0 L154.9,466.6 L155.4,467.1 L155.9,467.9 L156.4,467.6 L156.9,467.5 L157.4,467.2 L157.9,468.3 L158.4,468.4 L158.9,468.8 L159.4,468.1 L159.9,468.0 L160.4,468.7 L160.9,468.5 L161.4,468.2 L161.9,468.3 L162.4,468.5 L162.9,468.3 L163.4,468.1 L163.9,468.3 L164.4,468.9 L164.9,468.6 L165.4,468.9 L165.9,468.9 L166.4,468.4 L166.9,468.3 L167.4,468.8 L167.9,468.2 L168.4,468.5 L168.9,468.6 L169.4,468.7 L169.9,468.1 L170.4,468.5 L170.9,468.5 L171.4,469.1 L171.9,469.0 L172.4,468.6 L172.9,468.8 L173.4,468.5 L173.9,468.9 L174.4,468.6 L174.9,468.9 L175.4,468.4 L175.9,469.1 L176.4,468.5 L176.9,468.5 L177.4,469.0 L177.9,468.7 L178.4,468.6 L178.9,468.3 L179.4,468.5 L179.9,469.0 L180.4,469.0 L180.9,468.9 L181.4,468.9 L181.9,468.8 L182.4,469.0 L182.9,468.8 L183.4,469.0 L183.9,468.8 L184.4,469.1 L184.9,468.6 L185.4,469.0 L185.9,468.3 L186.4,468.7 L186.9,469.2 L187.4,468.6 L187.9,468.4 L188.4,468.9 L188.9,468.8 L189.4,468.7 L189.9,468.7 L190.4,468.8 L190.9,468.6 L191.4,468.9 L191.9,468.6 L192.4,468.9 L192.9,469.2 L193.4,469.1 L193.9,469.2 L194.4,468.7 L194.9,468.7 L195.4,468.7 L195.9,469.0 L196.4,469.1 L196.9,469.0 L197.4,469.1 L197.9,468.9 L198.4,468.9 L198.9,468.9 L199.4,468.8 L199.9,469.0 L200.4,468.6 L200.9,468.8 L201.4,469.1 L201.9,468.7 L201.9,469.2 Z" fill="#2e2e2e" stroke="#111" stroke-width="0.80" stroke-linejoin="round"/>
<line x1="103.2" y1="410.6" x2="141.4" y2="410.6" stroke="#666" stroke-width="0.9"/>
<line x1="141.1" y1="409.6" x2="141.1" y2="411.0" stroke="#666" stroke-width="0.6"/>
<text x="133.4" y="409.6" font-size="3.00" fill="#555" >M1</text>
<line x1="140.8" y1="416.2" x2="201.7" y2="416.2" stroke="#666" stroke-width="0.9"/>
<line x1="201.4" y1="415.2" x2="201.4" y2="416.6" stroke="#666" stroke-width="0.6"/>
<text x="193.7" y="415.2" font-size="3.00" fill="#555" >M2</text>
<text x="106.6" y="368.4" font-size="8.00" fill="#111"  stroke="#111" stroke-width="0.12">0 µM/48 h</text>
<text x="147.3" y="381.4" font-size="9.20" fill="#111"  stroke="#111" stroke-width="0.22">5.8%</text>
<line x1="228.5" y1="367.0" x2="228.5" y2="468.4" stroke="#6a6a6a" stroke-width="1.00"/>
<line x1="226.5" y1="468.4" x2="355.0" y2="468.4" stroke="#4a4a4a" stroke-width="1.0"/>
<text x="223.9" y="469.6" font-size="3.20" fill="#444" >0</text>
<line x1="227.3" y1="468.4" x2="228.5" y2="468.4" stroke="#777" stroke-width="0.6"/>
<line x1="227.3" y1="443.0" x2="228.5" y2="443.0" stroke="#777" stroke-width="0.6"/>
<line x1="227.3" y1="417.7" x2="228.5" y2="417.7" stroke="#777" stroke-width="0.6"/>
<line x1="227.3" y1="392.4" x2="228.5" y2="392.4" stroke="#777" stroke-width="0.6"/>
<line x1="227.3" y1="367.0" x2="228.5" y2="367.0" stroke="#777" stroke-width="0.6"/>
<line x1="228.5" y1="468.4" x2="228.5" y2="469.9" stroke="#777" stroke-width="0.6"/>
<text x="226.0" y="473.2" font-size="3.40" fill="#666" >10<tspan font-size="2.4" dy="-1.2">0</tspan></text>
<line x1="260.1" y1="468.4" x2="260.1" y2="469.9" stroke="#777" stroke-width="0.6"/>
<text x="257.6" y="473.2" font-size="3.40" fill="#666" >10<tspan font-size="2.4" dy="-1.2">1</tspan></text>
<line x1="291.8" y1="468.4" x2="291.8" y2="469.9" stroke="#777" stroke-width="0.6"/>
<text x="289.2" y="473.2" font-size="3.40" fill="#666" >10<tspan font-size="2.4" dy="-1.2">2</tspan></text>
<line x1="323.4" y1="468.4" x2="323.4" y2="469.9" stroke="#777" stroke-width="0.6"/>
<text x="320.9" y="473.2" font-size="3.40" fill="#666" >10<tspan font-size="2.4" dy="-1.2">3</tspan></text>
<line x1="355.0" y1="468.4" x2="355.0" y2="469.9" stroke="#777" stroke-width="0.6"/>
<text x="352.5" y="473.2" font-size="3.40" fill="#666" >10<tspan font-size="2.4" dy="-1.2">4</tspan></text>
<text transform="translate(223.9,423.8) rotate(-90)" font-size="4.00" fill="#333"  stroke="#333" stroke-width="0.15">Events</text>
<text transform="translate(226.8,370.2) rotate(-90)" font-size="3.40" fill="#333"  stroke="#333" stroke-width="0.15">128</text>
<text x="287.8" y="476.9" font-size="3.20" fill="#666" >HE</text>
<path d="M229.0,468.4 L229.0,468.2 L229.5,468.0 L230.0,468.0 L230.5,468.3 L231.0,468.4 L231.5,468.4 L232.0,468.0 L232.5,468.3 L233.0,467.8 L233.5,467.9 L234.0,467.7 L234.5,467.7 L235.0,468.3 L235.5,468.0 L236.0,468.2 L236.5,467.8 L237.0,468.0 L237.5,468.4 L238.0,467.8 L238.5,468.0 L239.0,468.0 L239.5,467.6 L240.0,468.1 L240.5,467.7 L241.0,467.7 L241.5,467.5 L242.0,467.8 L242.5,468.1 L243.0,468.2 L243.5,467.5 L244.0,467.5 L244.5,467.6 L245.0,467.7 L245.5,467.3 L246.0,467.7 L246.5,468.1 L247.0,467.4 L247.5,467.4 L248.0,467.7 L248.5,468.2 L249.0,468.1 L249.5,467.8 L250.0,468.0 L250.5,467.3 L251.0,467.9 L251.5,467.1 L252.0,466.7 L252.5,467.6 L253.0,466.6 L253.5,465.1 L254.0,466.1 L254.5,465.2 L255.0,463.8 L255.5,464.7 L256.0,463.0 L256.5,460.4 L257.0,460.0 L257.5,457.4 L258.0,453.7 L258.5,451.5 L259.0,451.9 L259.5,451.2 L260.0,449.6 L260.5,445.6 L261.0,441.7 L261.5,441.0 L262.0,437.1 L262.5,434.4 L263.0,427.4 L263.5,427.5 L264.0,423.9 L264.5,417.0 L265.0,419.2 L265.5,421.4 L266.0,417.8 L266.5,412.6 L267.0,418.8 L267.5,415.5 L268.0,416.5 L268.5,417.1 L269.0,415.8 L269.5,422.7 L270.0,425.4 L270.5,424.6 L271.0,428.9 L271.5,426.9 L272.0,429.3 L272.5,433.1 L273.0,440.7 L273.5,443.3 L274.0,448.5 L274.5,448.8 L275.0,446.0 L275.5,447.0 L276.0,448.3 L276.5,453.4 L277.0,454.5 L277.5,452.9 L278.0,452.5 L278.5,453.6 L279.0,456.7 L279.5,453.3 L280.0,454.6 L280.5,457.2 L281.0,456.8 L281.5,454.4 L282.0,456.9 L282.5,456.1 L283.0,458.9 L283.5,455.7 L284.0,459.2 L284.5,456.2 L285.0,459.1 L285.5,460.6 L286.0,457.4 L286.5,459.3 L287.0,459.5 L287.5,458.1 L288.0,460.0 L288.5,459.7 L289.0,459.6 L289.5,459.6 L290.0,458.8 L290.5,457.4 L291.0,457.9 L291.5,457.5 L292.0,457.5 L292.5,457.6 L293.0,458.9 L293.5,458.2 L294.0,455.6 L294.5,457.1 L295.0,455.8 L295.5,457.7 L296.0,457.2 L296.5,454.9 L297.0,455.8 L297.5,454.6 L298.0,456.1 L298.5,456.5 L299.0,457.0 L299.5,456.9 L300.0,456.1 L300.5,455.8 L301.0,457.4 L301.5,457.0 L302.0,460.1 L302.5,460.7 L303.0,460.8 L303.5,458.3 L304.0,461.2 L304.5,460.0 L305.0,459.3 L305.5,462.0 L306.0,462.0 L306.5,460.4 L307.0,463.6 L307.5,462.9 L308.0,464.3 L308.5,463.3 L309.0,463.9 L309.5,465.6 L310.0,464.3 L310.5,465.7 L311.0,464.4 L311.5,466.6 L312.0,466.7 L312.5,466.8 L313.0,466.3 L313.5,466.2 L314.0,467.1 L314.5,467.1 L315.0,468.1 L315.5,467.2 L316.0,467.7 L316.5,467.2 L317.0,468.0 L317.5,468.0 L318.0,467.8 L318.5,467.6 L319.0,468.1 L319.5,467.9 L320.0,468.3 L320.5,468.3 L321.0,468.1 L321.5,467.7 L322.0,468.0 L322.5,468.1 L323.0,468.2 L323.5,467.7 L324.0,468.2 L324.5,467.6 L325.0,467.6 L325.5,467.8 L326.0,468.0 L326.5,467.6 L327.0,468.0 L327.5,467.7 L328.0,468.0 L328.5,468.4 L329.0,468.2 L329.5,468.2 L330.0,468.2 L330.5,467.6 L331.0,468.2 L331.5,468.1 L332.0,468.2 L332.5,468.0 L333.0,467.6 L333.5,468.0 L334.0,468.2 L334.5,468.4 L335.0,468.0 L335.5,468.2 L336.0,468.4 L336.5,468.3 L337.0,468.4 L337.5,468.2 L338.0,467.9 L338.5,467.8 L339.0,467.8 L339.5,468.1 L340.0,467.8 L340.5,467.8 L341.0,468.3 L341.5,467.7 L342.0,467.8 L342.5,468.3 L343.0,468.0 L343.5,467.8 L344.0,467.9 L344.5,467.9 L345.0,468.4 L345.5,468.3 L346.0,468.2 L346.5,468.0 L347.0,467.9 L347.5,468.2 L348.0,467.8 L348.5,468.1 L349.0,468.1 L349.5,468.0 L350.0,468.4 L350.5,468.0 L351.0,467.8 L351.5,468.1 L352.0,468.1 L352.5,467.9 L353.0,468.1 L353.5,468.4 L354.0,468.0 L354.5,468.2 L355.0,468.4 L355.0,468.4 Z" fill="#2e2e2e" stroke="#111" stroke-width="0.80" stroke-linejoin="round"/>
<line x1="253.5" y1="409.5" x2="292.0" y2="409.5" stroke="#666" stroke-width="0.9"/>
<line x1="291.7" y1="408.5" x2="291.7" y2="409.9" stroke="#666" stroke-width="0.6"/>
<text x="284.0" y="408.5" font-size="3.00" fill="#555" >M1</text>
<line x1="291.3" y1="415.4" x2="351.0" y2="415.4" stroke="#666" stroke-width="0.9"/>
<line x1="350.7" y1="414.4" x2="350.7" y2="415.8" stroke="#666" stroke-width="0.6"/>
<text x="343.0" y="414.4" font-size="3.00" fill="#555" >M2</text>
<text x="257.2" y="368.6" font-size="8.00" fill="#111"  stroke="#111" stroke-width="0.12">45 µM/48 h</text>
<text x="298.5" y="381.5" font-size="8.40" fill="#111"  stroke="#111" stroke-width="0.22">20.7%</text>
<line x1="378.9" y1="367.0" x2="378.9" y2="469.1" stroke="#6a6a6a" stroke-width="1.00"/>
<line x1="376.9" y1="469.1" x2="504.6" y2="469.1" stroke="#4a4a4a" stroke-width="1.0"/>
<text x="374.3" y="470.3" font-size="3.20" fill="#444" >0</text>
<line x1="377.7" y1="469.1" x2="378.9" y2="469.1" stroke="#777" stroke-width="0.6"/>
<line x1="377.7" y1="443.6" x2="378.9" y2="443.6" stroke="#777" stroke-width="0.6"/>
<line x1="377.7" y1="418.1" x2="378.9" y2="418.1" stroke="#777" stroke-width="0.6"/>
<line x1="377.7" y1="392.5" x2="378.9" y2="392.5" stroke="#777" stroke-width="0.6"/>
<line x1="377.7" y1="367.0" x2="378.9" y2="367.0" stroke="#777" stroke-width="0.6"/>
<line x1="378.9" y1="469.1" x2="378.9" y2="470.6" stroke="#777" stroke-width="0.6"/>
<text x="376.4" y="473.9" font-size="3.40" fill="#666" >10<tspan font-size="2.4" dy="-1.2">0</tspan></text>
<line x1="410.3" y1="469.1" x2="410.3" y2="470.6" stroke="#777" stroke-width="0.6"/>
<text x="407.8" y="473.9" font-size="3.40" fill="#666" >10<tspan font-size="2.4" dy="-1.2">1</tspan></text>
<line x1="441.8" y1="469.1" x2="441.8" y2="470.6" stroke="#777" stroke-width="0.6"/>
<text x="439.2" y="473.9" font-size="3.40" fill="#666" >10<tspan font-size="2.4" dy="-1.2">2</tspan></text>
<line x1="473.2" y1="469.1" x2="473.2" y2="470.6" stroke="#777" stroke-width="0.6"/>
<text x="470.7" y="473.9" font-size="3.40" fill="#666" >10<tspan font-size="2.4" dy="-1.2">3</tspan></text>
<line x1="504.6" y1="469.1" x2="504.6" y2="470.6" stroke="#777" stroke-width="0.6"/>
<text x="502.1" y="473.9" font-size="3.40" fill="#666" >10<tspan font-size="2.4" dy="-1.2">4</tspan></text>
<text transform="translate(374.3,424.2) rotate(-90)" font-size="4.00" fill="#333"  stroke="#333" stroke-width="0.15">Events</text>
<text transform="translate(377.2,370.2) rotate(-90)" font-size="3.40" fill="#333"  stroke="#333" stroke-width="0.15">128</text>
<text x="437.8" y="477.6" font-size="3.20" fill="#666" >HE</text>
<path d="M379.4,469.1 L379.4,468.8 L379.9,468.9 L380.4,469.1 L380.9,468.4 L381.4,468.6 L381.9,468.8 L382.4,468.9 L382.9,469.1 L383.4,469.1 L383.9,468.7 L384.4,468.9 L384.9,468.7 L385.4,469.0 L385.9,468.7 L386.4,468.7 L386.9,468.6 L387.4,468.3 L387.9,469.0 L388.4,468.3 L388.9,468.8 L389.4,468.5 L389.9,468.3 L390.4,468.6 L390.9,468.8 L391.4,468.9 L391.9,468.3 L392.4,468.3 L392.9,468.9 L393.4,468.5 L393.9,468.8 L394.4,468.4 L394.9,468.7 L395.4,468.9 L395.9,468.4 L396.4,468.0 L396.9,467.7 L397.4,467.8 L397.9,466.9 L398.4,467.7 L398.9,467.8 L399.4,466.8 L399.9,467.7 L400.4,467.6 L400.9,467.0 L401.4,466.6 L401.9,467.5 L402.4,467.1 L402.9,466.3 L403.4,465.8 L403.9,464.8 L404.4,466.8 L404.9,465.1 L405.4,463.6 L405.9,462.5 L406.4,462.1 L406.9,461.3 L407.4,460.0 L407.9,459.3 L408.4,461.4 L408.9,460.3 L409.4,458.2 L409.9,457.7 L410.4,457.7 L410.9,455.2 L411.4,453.6 L411.9,451.0 L412.4,451.5 L412.9,451.3 L413.4,448.8 L413.9,445.6 L414.4,445.3 L414.9,445.4 L415.4,445.8 L415.9,440.9 L416.4,440.4 L416.9,442.6 L417.4,438.1 L417.9,442.4 L418.4,435.1 L418.9,433.9 L419.4,438.7 L419.9,435.4 L420.4,436.1 L420.9,432.2 L421.4,427.1 L421.9,427.1 L422.4,432.8 L422.9,436.6 L423.4,434.1 L423.9,438.6 L424.4,435.2 L424.9,435.2 L425.4,436.8 L425.9,440.7 L426.4,440.4 L426.9,438.8 L427.4,444.3 L427.9,443.8 L428.4,445.2 L428.9,445.2 L429.4,442.5 L429.9,446.5 L430.4,446.7 L430.9,444.0 L431.4,446.4 L431.9,447.0 L432.4,448.1 L432.9,449.4 L433.4,452.6 L433.9,451.6 L434.4,452.2 L434.9,456.7 L435.4,454.8 L435.9,455.9 L436.4,454.2 L436.9,458.5 L437.4,455.1 L437.9,457.8 L438.4,454.7 L438.9,456.2 L439.4,455.0 L439.9,455.2 L440.4,456.9 L440.9,456.3 L441.4,455.3 L441.9,453.9 L442.4,456.4 L442.9,455.0 L443.4,453.1 L443.9,455.6 L444.4,455.4 L444.9,455.9 L445.4,453.1 L445.9,451.6 L446.4,453.8 L446.9,451.7 L447.4,452.2 L447.9,449.8 L448.4,454.4 L448.9,452.9 L449.4,450.9 L449.9,449.8 L450.4,451.9 L450.9,450.9 L451.4,451.7 L451.9,453.5 L452.4,455.7 L452.9,454.9 L453.4,458.2 L453.9,458.7 L454.4,458.0 L454.9,458.4 L455.4,459.6 L455.9,462.8 L456.4,461.6 L456.9,463.2 L457.4,464.5 L457.9,464.6 L458.4,465.2 L458.9,465.2 L459.4,465.5 L459.9,466.7 L460.4,466.9 L460.9,466.8 L461.4,466.5 L461.9,466.9 L462.4,467.9 L462.9,467.8 L463.4,467.9 L463.9,468.6 L464.4,468.8 L464.9,468.7 L465.4,468.3 L465.9,468.6 L466.4,468.8 L466.9,468.3 L467.4,469.1 L467.9,468.7 L468.4,468.6 L468.9,468.4 L469.4,468.3 L469.9,468.6 L470.4,468.4 L470.9,468.3 L471.4,468.5 L471.9,468.5 L472.4,468.5 L472.9,468.7 L473.4,468.7 L473.9,468.7 L474.4,468.5 L474.9,468.8 L475.4,468.9 L475.9,468.5 L476.4,468.6 L476.9,468.4 L477.4,469.1 L477.9,468.6 L478.4,468.7 L478.9,468.4 L479.4,468.6 L479.9,469.0 L480.4,468.7 L480.9,468.6 L481.4,468.9 L481.9,469.0 L482.4,468.6 L482.9,468.4 L483.4,468.4 L483.9,469.0 L484.4,468.4 L484.9,468.6 L485.4,468.6 L485.9,468.8 L486.4,469.0 L486.9,469.0 L487.4,468.6 L487.9,468.7 L488.4,468.9 L488.9,468.7 L489.4,468.9 L489.9,468.7 L490.4,468.5 L490.9,468.4 L491.4,468.7 L491.9,468.8 L492.4,469.1 L492.9,468.7 L493.4,468.5 L493.9,468.4 L494.4,468.7 L494.9,468.9 L495.4,468.6 L495.9,469.1 L496.4,468.9 L496.9,468.8 L497.4,468.7 L497.9,468.9 L498.4,468.6 L498.9,468.9 L499.4,468.5 L499.9,468.8 L500.4,469.1 L500.9,468.6 L501.4,468.8 L501.9,468.8 L502.4,468.5 L502.9,468.9 L503.4,468.5 L503.9,468.9 L504.4,468.8 L504.4,469.1 Z" fill="#2e2e2e" stroke="#111" stroke-width="0.80" stroke-linejoin="round"/>
<line x1="404.6" y1="410.0" x2="442.5" y2="410.0" stroke="#666" stroke-width="0.9"/>
<line x1="442.2" y1="409.0" x2="442.2" y2="410.4" stroke="#666" stroke-width="0.6"/>
<text x="434.5" y="409.0" font-size="3.00" fill="#555" >M1</text>
<line x1="441.5" y1="416.2" x2="501.5" y2="416.2" stroke="#666" stroke-width="0.9"/>
<line x1="501.2" y1="415.2" x2="501.2" y2="416.6" stroke="#666" stroke-width="0.6"/>
<text x="493.5" y="415.2" font-size="3.00" fill="#555" >M2</text>
<text x="407.4" y="367.8" font-size="8.20" fill="#111"  stroke="#111" stroke-width="0.12">90 µM/48 h</text>
<text x="462.8" y="381.8" font-size="8.40" fill="#111"  stroke="#111" stroke-width="0.22">28.3%</text>
<line x1="78.1" y1="493.0" x2="78.1" y2="593.9" stroke="#6a6a6a" stroke-width="1.00"/>
<line x1="76.1" y1="593.9" x2="202.3" y2="593.9" stroke="#4a4a4a" stroke-width="1.0"/>
<text x="73.5" y="595.1" font-size="3.20" fill="#444" >0</text>
<line x1="76.9" y1="593.9" x2="78.1" y2="593.9" stroke="#777" stroke-width="0.6"/>
<line x1="76.9" y1="568.7" x2="78.1" y2="568.7" stroke="#777" stroke-width="0.6"/>
<line x1="76.9" y1="543.5" x2="78.1" y2="543.5" stroke="#777" stroke-width="0.6"/>
<line x1="76.9" y1="518.2" x2="78.1" y2="518.2" stroke="#777" stroke-width="0.6"/>
<line x1="76.9" y1="493.0" x2="78.1" y2="493.0" stroke="#777" stroke-width="0.6"/>
<line x1="78.1" y1="593.9" x2="78.1" y2="595.4" stroke="#777" stroke-width="0.6"/>
<text x="75.6" y="598.7" font-size="3.40" fill="#666" >10<tspan font-size="2.4" dy="-1.2">0</tspan></text>
<line x1="109.2" y1="593.9" x2="109.2" y2="595.4" stroke="#777" stroke-width="0.6"/>
<text x="106.7" y="598.7" font-size="3.40" fill="#666" >10<tspan font-size="2.4" dy="-1.2">1</tspan></text>
<line x1="140.2" y1="593.9" x2="140.2" y2="595.4" stroke="#777" stroke-width="0.6"/>
<text x="137.7" y="598.7" font-size="3.40" fill="#666" >10<tspan font-size="2.4" dy="-1.2">2</tspan></text>
<line x1="171.2" y1="593.9" x2="171.2" y2="595.4" stroke="#777" stroke-width="0.6"/>
<text x="168.8" y="598.7" font-size="3.40" fill="#666" >10<tspan font-size="2.4" dy="-1.2">3</tspan></text>
<line x1="202.3" y1="593.9" x2="202.3" y2="595.4" stroke="#777" stroke-width="0.6"/>
<text x="199.8" y="598.7" font-size="3.40" fill="#666" >10<tspan font-size="2.4" dy="-1.2">4</tspan></text>
<text transform="translate(73.5,549.3) rotate(-90)" font-size="3.80" fill="#333"  stroke="#333" stroke-width="0.15">Events</text>
<text transform="translate(76.4,496.2) rotate(-90)" font-size="3.40" fill="#333"  stroke="#333" stroke-width="0.15">128</text>
<text x="136.2" y="602.4" font-size="3.20" fill="#666" >HE</text>
<path d="M78.6,593.9 L78.6,593.6 L79.1,593.8 L79.6,593.9 L80.1,593.3 L80.6,593.5 L81.1,593.9 L81.6,593.4 L82.1,593.4 L82.6,593.9 L83.1,593.4 L83.6,593.4 L84.1,593.6 L84.6,593.9 L85.1,593.3 L85.6,593.7 L86.1,593.8 L86.6,593.6 L87.1,593.7 L87.6,593.2 L88.1,593.6 L88.6,593.9 L89.1,593.1 L89.6,593.4 L90.1,593.3 L90.6,593.9 L91.1,593.9 L91.6,593.9 L92.1,593.3 L92.6,593.5 L93.1,593.4 L93.6,593.4 L94.1,593.2 L94.6,593.9 L95.1,593.4 L95.6,593.5 L96.1,592.9 L96.6,593.0 L97.1,593.6 L97.6,593.9 L98.1,592.9 L98.6,592.8 L99.1,593.0 L99.6,592.8 L100.1,592.7 L100.6,592.3 L101.1,591.2 L101.6,591.8 L102.1,591.4 L102.6,592.0 L103.1,591.6 L103.6,591.6 L104.1,588.8 L104.6,588.8 L105.1,588.3 L105.6,589.5 L106.1,588.8 L106.6,586.6 L107.1,587.1 L107.6,585.9 L108.1,588.7 L108.6,587.8 L109.1,583.8 L109.6,588.4 L110.1,586.9 L110.6,584.3 L111.1,585.7 L111.6,584.4 L112.1,586.5 L112.6,583.3 L113.1,584.1 L113.6,582.3 L114.1,581.5 L114.6,580.9 L115.1,580.9 L115.6,580.9 L116.1,582.4 L116.6,581.4 L117.1,580.1 L117.6,584.3 L118.1,581.0 L118.6,581.1 L119.1,579.0 L119.6,577.4 L120.1,579.8 L120.6,572.7 L121.1,574.2 L121.6,570.3 L122.1,571.0 L122.6,572.7 L123.1,569.1 L123.6,568.6 L124.1,569.8 L124.6,573.0 L125.1,569.7 L125.6,570.5 L126.1,565.8 L126.6,564.4 L127.1,566.2 L127.6,565.3 L128.1,560.4 L128.6,560.4 L129.1,560.4 L129.6,568.1 L130.1,572.6 L130.6,570.7 L131.1,574.0 L131.6,570.0 L132.1,567.4 L132.6,575.0 L133.1,574.1 L133.6,574.9 L134.1,575.8 L134.6,569.2 L135.1,574.1 L135.6,574.2 L136.1,575.6 L136.6,577.5 L137.1,576.2 L137.6,577.1 L138.1,581.1 L138.6,576.4 L139.1,580.3 L139.6,578.8 L140.1,582.9 L140.6,581.6 L141.1,578.1 L141.6,578.3 L142.1,578.2 L142.6,577.8 L143.1,581.5 L143.6,579.3 L144.1,580.5 L144.6,579.8 L145.1,579.7 L145.6,576.5 L146.1,577.0 L146.6,576.4 L147.1,577.1 L147.6,576.5 L148.1,573.1 L148.6,573.1 L149.1,574.1 L149.6,571.4 L150.1,571.8 L150.6,573.0 L151.1,576.8 L151.6,572.6 L152.1,573.1 L152.6,571.3 L153.1,568.9 L153.6,569.9 L154.1,573.2 L154.6,572.8 L155.1,571.4 L155.6,563.4 L156.1,563.4 L156.6,563.4 L157.1,571.9 L157.6,571.1 L158.1,572.3 L158.6,574.2 L159.1,570.3 L159.6,578.4 L160.1,580.0 L160.6,575.8 L161.1,577.4 L161.6,582.8 L162.1,582.4 L162.6,584.8 L163.1,583.0 L163.6,584.7 L164.1,584.4 L164.6,588.4 L165.1,587.6 L165.6,590.2 L166.1,588.9 L166.6,590.9 L167.1,589.8 L167.6,589.7 L168.1,590.3 L168.6,592.3 L169.1,591.8 L169.6,592.5 L170.1,592.2 L170.6,592.4 L171.1,593.9 L171.6,592.9 L172.1,593.1 L172.6,593.3 L173.1,593.4 L173.6,593.1 L174.1,593.9 L174.6,593.5 L175.1,593.2 L175.6,593.9 L176.1,593.9 L176.6,593.2 L177.1,593.1 L177.6,593.9 L178.1,593.5 L178.6,593.3 L179.1,593.4 L179.6,593.1 L180.1,593.9 L180.6,593.1 L181.1,593.7 L181.6,593.8 L182.1,593.5 L182.6,593.1 L183.1,593.7 L183.6,593.2 L184.1,593.9 L184.6,593.9 L185.1,593.6 L185.6,593.9 L186.1,593.7 L186.6,593.8 L187.1,593.8 L187.6,593.2 L188.1,593.5 L188.6,593.2 L189.1,593.9 L189.6,593.9 L190.1,593.9 L190.6,593.4 L191.1,593.5 L191.6,593.9 L192.1,593.3 L192.6,593.9 L193.1,593.5 L193.6,593.7 L194.1,593.3 L194.6,593.5 L195.1,593.9 L195.6,593.8 L196.1,593.7 L196.6,593.5 L197.1,593.8 L197.6,593.3 L198.1,593.9 L198.6,593.8 L199.1,593.3 L199.6,593.4 L200.1,593.4 L200.6,593.5 L201.1,593.9 L201.6,593.6 L202.1,593.2 L202.1,593.9 Z" fill="#2e2e2e" stroke="#111" stroke-width="0.80" stroke-linejoin="round"/>
<line x1="103.2" y1="535.4" x2="141.7" y2="535.4" stroke="#666" stroke-width="0.9"/>
<line x1="141.4" y1="534.4" x2="141.4" y2="535.8" stroke="#666" stroke-width="0.6"/>
<text x="133.7" y="534.4" font-size="3.00" fill="#555" >M1</text>
<line x1="140.8" y1="541.0" x2="201.7" y2="541.0" stroke="#666" stroke-width="0.9"/>
<line x1="201.4" y1="540.0" x2="201.4" y2="541.4" stroke="#666" stroke-width="0.6"/>
<text x="193.7" y="540.0" font-size="3.00" fill="#555" >M2</text>
<text x="106.6" y="494.9" font-size="8.00" fill="#111"  stroke="#111" stroke-width="0.12">135 µM/48 h</text>
<text x="149.0" y="513.2" font-size="8.20" fill="#111"  stroke="#111" stroke-width="0.22">49.0%</text>
<line x1="228.5" y1="492.3" x2="228.5" y2="594.2" stroke="#6a6a6a" stroke-width="1.00"/>
<line x1="226.5" y1="594.2" x2="355.0" y2="594.2" stroke="#4a4a4a" stroke-width="1.0"/>
<text x="223.9" y="595.4" font-size="3.20" fill="#444" >0</text>
<line x1="227.3" y1="594.2" x2="228.5" y2="594.2" stroke="#777" stroke-width="0.6"/>
<line x1="227.3" y1="568.7" x2="228.5" y2="568.7" stroke="#777" stroke-width="0.6"/>
<line x1="227.3" y1="543.2" x2="228.5" y2="543.2" stroke="#777" stroke-width="0.6"/>
<line x1="227.3" y1="517.8" x2="228.5" y2="517.8" stroke="#777" stroke-width="0.6"/>
<line x1="227.3" y1="492.3" x2="228.5" y2="492.3" stroke="#777" stroke-width="0.6"/>
<line x1="228.5" y1="594.2" x2="228.5" y2="595.7" stroke="#777" stroke-width="0.6"/>
<text x="226.0" y="599.0" font-size="3.40" fill="#666" >10<tspan font-size="2.4" dy="-1.2">0</tspan></text>
<line x1="260.1" y1="594.2" x2="260.1" y2="595.7" stroke="#777" stroke-width="0.6"/>
<text x="257.6" y="599.0" font-size="3.40" fill="#666" >10<tspan font-size="2.4" dy="-1.2">1</tspan></text>
<line x1="291.8" y1="594.2" x2="291.8" y2="595.7" stroke="#777" stroke-width="0.6"/>
<text x="289.2" y="599.0" font-size="3.40" fill="#666" >10<tspan font-size="2.4" dy="-1.2">2</tspan></text>
<line x1="323.4" y1="594.2" x2="323.4" y2="595.7" stroke="#777" stroke-width="0.6"/>
<text x="320.9" y="599.0" font-size="3.40" fill="#666" >10<tspan font-size="2.4" dy="-1.2">3</tspan></text>
<line x1="355.0" y1="594.2" x2="355.0" y2="595.7" stroke="#777" stroke-width="0.6"/>
<text x="352.5" y="599.0" font-size="3.40" fill="#666" >10<tspan font-size="2.4" dy="-1.2">4</tspan></text>
<text transform="translate(223.9,549.1) rotate(-90)" font-size="3.80" fill="#333"  stroke="#333" stroke-width="0.15">Events</text>
<text transform="translate(226.8,495.5) rotate(-90)" font-size="3.40" fill="#333"  stroke="#333" stroke-width="0.15">128</text>
<text x="287.8" y="602.7" font-size="3.20" fill="#666" >HE</text>
<path d="M229.0,594.2 L229.0,593.8 L229.5,593.9 L230.0,593.5 L230.5,593.8 L231.0,593.9 L231.5,594.0 L232.0,593.5 L232.5,593.5 L233.0,594.0 L233.5,593.7 L234.0,593.6 L234.5,594.1 L235.0,593.2 L235.5,593.8 L236.0,594.2 L236.5,593.4 L237.0,593.8 L237.5,594.0 L238.0,594.0 L238.5,593.6 L239.0,594.2 L239.5,594.0 L240.0,593.7 L240.5,593.6 L241.0,593.5 L241.5,593.7 L242.0,593.7 L242.5,593.6 L243.0,594.0 L243.5,593.3 L244.0,593.9 L244.5,594.0 L245.0,594.2 L245.5,593.9 L246.0,593.5 L246.5,593.4 L247.0,593.9 L247.5,594.2 L248.0,593.9 L248.5,594.2 L249.0,593.6 L249.5,593.2 L250.0,594.0 L250.5,593.2 L251.0,593.6 L251.5,593.5 L252.0,593.6 L252.5,593.1 L253.0,593.3 L253.5,592.5 L254.0,592.8 L254.5,593.4 L255.0,593.3 L255.5,592.8 L256.0,590.3 L256.5,591.5 L257.0,591.2 L257.5,590.1 L258.0,590.1 L258.5,589.5 L259.0,591.1 L259.5,588.7 L260.0,588.1 L260.5,586.9 L261.0,586.2 L261.5,587.4 L262.0,585.6 L262.5,588.3 L263.0,584.4 L263.5,583.2 L264.0,584.4 L264.5,584.0 L265.0,586.0 L265.5,586.3 L266.0,585.3 L266.5,580.0 L267.0,582.7 L267.5,581.0 L268.0,582.2 L268.5,581.2 L269.0,581.8 L269.5,580.0 L270.0,579.3 L270.5,577.4 L271.0,582.3 L271.5,582.0 L272.0,580.3 L272.5,576.4 L273.0,579.2 L273.5,577.3 L274.0,578.7 L274.5,577.6 L275.0,576.3 L275.5,575.9 L276.0,573.8 L276.5,572.8 L277.0,572.2 L277.5,570.6 L278.0,577.3 L278.5,571.5 L279.0,575.0 L279.5,571.4 L280.0,574.9 L280.5,575.6 L281.0,570.0 L281.5,574.3 L282.0,568.6 L282.5,571.7 L283.0,568.4 L283.5,576.5 L284.0,569.9 L284.5,572.5 L285.0,570.7 L285.5,574.7 L286.0,572.1 L286.5,572.8 L287.0,574.9 L287.5,577.5 L288.0,574.6 L288.5,572.9 L289.0,574.0 L289.5,578.7 L290.0,577.9 L290.5,581.1 L291.0,577.9 L291.5,578.0 L292.0,582.0 L292.5,578.5 L293.0,580.4 L293.5,583.0 L294.0,582.4 L294.5,581.7 L295.0,578.3 L295.5,576.4 L296.0,578.7 L296.5,580.2 L297.0,573.2 L297.5,577.9 L298.0,576.0 L298.5,570.9 L299.0,572.6 L299.5,574.0 L300.0,574.7 L300.5,569.1 L301.0,567.8 L301.5,572.0 L302.0,567.9 L302.5,561.2 L303.0,561.2 L303.5,561.2 L304.0,568.8 L304.5,566.5 L305.0,562.4 L305.5,564.6 L306.0,559.2 L306.5,559.2 L307.0,568.2 L307.5,565.4 L308.0,567.4 L308.5,569.7 L309.0,574.4 L309.5,570.5 L310.0,573.2 L310.5,580.5 L311.0,582.6 L311.5,582.0 L312.0,581.5 L312.5,583.3 L313.0,587.5 L313.5,588.0 L314.0,589.8 L314.5,589.2 L315.0,590.5 L315.5,592.5 L316.0,592.9 L316.5,590.9 L317.0,593.3 L317.5,594.0 L318.0,592.9 L318.5,592.9 L319.0,594.2 L319.5,593.8 L320.0,594.2 L320.5,593.7 L321.0,594.0 L321.5,594.1 L322.0,593.9 L322.5,594.2 L323.0,594.2 L323.5,594.1 L324.0,593.4 L324.5,593.7 L325.0,593.6 L325.5,593.7 L326.0,593.6 L326.5,593.7 L327.0,594.1 L327.5,593.6 L328.0,593.5 L328.5,593.7 L329.0,593.9 L329.5,594.1 L330.0,594.2 L330.5,593.8 L331.0,593.4 L331.5,593.9 L332.0,594.2 L332.5,594.0 L333.0,594.1 L333.5,593.8 L334.0,593.7 L334.5,593.9 L335.0,593.8 L335.5,593.5 L336.0,593.9 L336.5,593.4 L337.0,593.9 L337.5,593.5 L338.0,593.8 L338.5,593.3 L339.0,593.9 L339.5,593.5 L340.0,593.8 L340.5,594.2 L341.0,594.0 L341.5,593.6 L342.0,593.9 L342.5,594.0 L343.0,594.2 L343.5,593.9 L344.0,593.8 L344.5,593.7 L345.0,593.4 L345.5,593.8 L346.0,593.6 L346.5,594.2 L347.0,593.9 L347.5,594.2 L348.0,594.2 L348.5,594.1 L349.0,594.0 L349.5,594.2 L350.0,594.2 L350.5,593.8 L351.0,593.6 L351.5,594.2 L352.0,593.9 L352.5,594.1 L353.0,594.1 L353.5,593.9 L354.0,594.2 L354.5,594.2 L355.0,593.7 L355.0,594.2 Z" fill="#2e2e2e" stroke="#111" stroke-width="0.80" stroke-linejoin="round"/>
<line x1="254.4" y1="536.0" x2="292.0" y2="536.0" stroke="#666" stroke-width="0.9"/>
<line x1="291.7" y1="535.0" x2="291.7" y2="536.4" stroke="#666" stroke-width="0.6"/>
<text x="284.0" y="535.0" font-size="3.00" fill="#555" >M1</text>
<line x1="291.3" y1="541.5" x2="351.0" y2="541.5" stroke="#666" stroke-width="0.9"/>
<line x1="350.7" y1="540.5" x2="350.7" y2="541.9" stroke="#666" stroke-width="0.6"/>
<text x="343.0" y="540.5" font-size="3.00" fill="#555" >M2</text>
<text x="257.2" y="494.9" font-size="8.00" fill="#111"  stroke="#111" stroke-width="0.12">180 µM/48 h</text>
<text x="298.5" y="513.4" font-size="8.50" fill="#111"  stroke="#111" stroke-width="0.22">54.9%</text>
<line x1="378.5" y1="492.3" x2="378.5" y2="594.3" stroke="#6a6a6a" stroke-width="1.00"/>
<line x1="376.5" y1="594.3" x2="504.6" y2="594.3" stroke="#4a4a4a" stroke-width="1.0"/>
<text x="373.9" y="595.5" font-size="3.20" fill="#444" >0</text>
<line x1="377.3" y1="594.3" x2="378.5" y2="594.3" stroke="#777" stroke-width="0.6"/>
<line x1="377.3" y1="568.8" x2="378.5" y2="568.8" stroke="#777" stroke-width="0.6"/>
<line x1="377.3" y1="543.3" x2="378.5" y2="543.3" stroke="#777" stroke-width="0.6"/>
<line x1="377.3" y1="517.8" x2="378.5" y2="517.8" stroke="#777" stroke-width="0.6"/>
<line x1="377.3" y1="492.3" x2="378.5" y2="492.3" stroke="#777" stroke-width="0.6"/>
<line x1="378.5" y1="594.3" x2="378.5" y2="595.8" stroke="#777" stroke-width="0.6"/>
<text x="376.0" y="599.1" font-size="3.40" fill="#666" >10<tspan font-size="2.4" dy="-1.2">0</tspan></text>
<line x1="410.0" y1="594.3" x2="410.0" y2="595.8" stroke="#777" stroke-width="0.6"/>
<text x="407.5" y="599.1" font-size="3.40" fill="#666" >10<tspan font-size="2.4" dy="-1.2">1</tspan></text>
<line x1="441.6" y1="594.3" x2="441.6" y2="595.8" stroke="#777" stroke-width="0.6"/>
<text x="439.1" y="599.1" font-size="3.40" fill="#666" >10<tspan font-size="2.4" dy="-1.2">2</tspan></text>
<line x1="473.1" y1="594.3" x2="473.1" y2="595.8" stroke="#777" stroke-width="0.6"/>
<text x="470.6" y="599.1" font-size="3.40" fill="#666" >10<tspan font-size="2.4" dy="-1.2">3</tspan></text>
<line x1="504.6" y1="594.3" x2="504.6" y2="595.8" stroke="#777" stroke-width="0.6"/>
<text x="502.1" y="599.1" font-size="3.40" fill="#666" >10<tspan font-size="2.4" dy="-1.2">4</tspan></text>
<text transform="translate(373.9,549.1) rotate(-90)" font-size="3.80" fill="#333"  stroke="#333" stroke-width="0.15">Events</text>
<text transform="translate(376.8,495.5) rotate(-90)" font-size="3.40" fill="#333"  stroke="#333" stroke-width="0.15">128</text>
<text x="437.6" y="602.8" font-size="3.20" fill="#666" >HE</text>
<path d="M379.0,594.3 L379.0,594.0 L379.5,593.6 L380.0,593.9 L380.5,594.2 L381.0,593.7 L381.5,594.3 L382.0,594.3 L382.5,593.9 L383.0,593.3 L383.5,593.7 L384.0,594.3 L384.5,594.0 L385.0,594.3 L385.5,594.3 L386.0,593.9 L386.5,593.8 L387.0,593.8 L387.5,594.0 L388.0,593.2 L388.5,593.4 L389.0,594.1 L389.5,594.2 L390.0,593.6 L390.5,593.5 L391.0,593.2 L391.5,594.3 L392.0,593.3 L392.5,593.3 L393.0,594.3 L393.5,593.5 L394.0,594.3 L394.5,593.2 L395.0,594.3 L395.5,594.3 L396.0,593.5 L396.5,593.7 L397.0,594.1 L397.5,594.2 L398.0,594.2 L398.5,594.1 L399.0,593.0 L399.5,593.9 L400.0,594.1 L400.5,593.2 L401.0,594.1 L401.5,594.1 L402.0,593.2 L402.5,593.9 L403.0,593.9 L403.5,593.6 L404.0,593.4 L404.5,591.6 L405.0,592.0 L405.5,593.2 L406.0,590.8 L406.5,592.7 L407.0,590.8 L407.5,592.1 L408.0,590.2 L408.5,591.6 L409.0,592.2 L409.5,591.5 L410.0,591.2 L410.5,590.1 L411.0,591.1 L411.5,591.5 L412.0,589.2 L412.5,589.0 L413.0,587.6 L413.5,590.9 L414.0,589.1 L414.5,589.6 L415.0,587.7 L415.5,587.8 L416.0,584.7 L416.5,585.6 L417.0,588.1 L417.5,587.9 L418.0,584.0 L418.5,587.3 L419.0,584.0 L419.5,584.0 L420.0,584.9 L420.5,579.9 L421.0,579.1 L421.5,577.8 L422.0,579.3 L422.5,573.3 L423.0,574.8 L423.5,568.1 L424.0,566.0 L424.5,562.2 L425.0,564.4 L425.5,553.1 L426.0,554.0 L426.5,551.7 L427.0,552.8 L427.5,555.3 L428.0,554.5 L428.5,548.0 L429.0,543.8 L429.5,545.2 L430.0,551.8 L430.5,553.0 L431.0,556.4 L431.5,550.4 L432.0,556.9 L432.5,559.8 L433.0,562.8 L433.5,558.3 L434.0,559.1 L434.5,563.1 L435.0,568.3 L435.5,562.9 L436.0,565.1 L436.5,570.1 L437.0,569.4 L437.5,572.2 L438.0,569.6 L438.5,572.8 L439.0,568.5 L439.5,576.7 L440.0,571.3 L440.5,573.1 L441.0,576.8 L441.5,579.4 L442.0,576.0 L442.5,572.8 L443.0,577.8 L443.5,573.7 L444.0,573.3 L444.5,571.4 L445.0,572.3 L445.5,573.5 L446.0,576.6 L446.5,570.7 L447.0,573.7 L447.5,569.7 L448.0,569.9 L448.5,571.1 L449.0,566.6 L449.5,565.5 L450.0,571.9 L450.5,566.8 L451.0,568.6 L451.5,563.5 L452.0,564.5 L452.5,568.9 L453.0,569.8 L453.5,572.3 L454.0,577.4 L454.5,573.9 L455.0,579.1 L455.5,582.3 L456.0,581.3 L456.5,587.1 L457.0,586.1 L457.5,588.4 L458.0,588.9 L458.5,589.6 L459.0,591.2 L459.5,592.5 L460.0,591.6 L460.5,591.2 L461.0,591.6 L461.5,592.7 L462.0,593.8 L462.5,593.8 L463.0,593.5 L463.5,593.4 L464.0,594.1 L464.5,593.4 L465.0,594.1 L465.5,593.4 L466.0,593.9 L466.5,593.8 L467.0,593.9 L467.5,593.4 L468.0,593.9 L468.5,593.8 L469.0,593.8 L469.5,593.9 L470.0,593.3 L470.5,594.1 L471.0,594.3 L471.5,593.5 L472.0,594.0 L472.5,594.2 L473.0,593.6 L473.5,593.8 L474.0,594.3 L474.5,593.8 L475.0,594.0 L475.5,594.3 L476.0,594.3 L476.5,594.2 L477.0,593.9 L477.5,594.1 L478.0,594.0 L478.5,594.2 L479.0,593.8 L479.5,593.6 L480.0,593.7 L480.5,593.6 L481.0,593.6 L481.5,594.0 L482.0,594.1 L482.5,593.7 L483.0,594.1 L483.5,594.3 L484.0,593.7 L484.5,593.8 L485.0,594.0 L485.5,594.3 L486.0,593.7 L486.5,593.6 L487.0,593.9 L487.5,593.9 L488.0,594.3 L488.5,594.3 L489.0,593.9 L489.5,594.0 L490.0,594.3 L490.5,593.6 L491.0,593.7 L491.5,594.3 L492.0,594.0 L492.5,594.2 L493.0,594.0 L493.5,594.0 L494.0,593.8 L494.5,594.3 L495.0,593.8 L495.5,594.3 L496.0,594.1 L496.5,593.6 L497.0,593.8 L497.5,593.9 L498.0,593.9 L498.5,593.6 L499.0,594.1 L499.5,593.8 L500.0,593.8 L500.5,593.6 L501.0,593.8 L501.5,593.9 L502.0,594.0 L502.5,594.2 L503.0,594.3 L503.5,593.9 L504.0,594.1 L504.5,594.0 L504.5,594.3 Z" fill="#2e2e2e" stroke="#111" stroke-width="0.80" stroke-linejoin="round"/>
<line x1="404.6" y1="536.0" x2="442.5" y2="536.0" stroke="#666" stroke-width="0.9"/>
<line x1="442.2" y1="535.0" x2="442.2" y2="536.4" stroke="#666" stroke-width="0.6"/>
<text x="434.5" y="535.0" font-size="3.00" fill="#555" >M1</text>
<line x1="440.6" y1="541.5" x2="501.5" y2="541.5" stroke="#666" stroke-width="0.9"/>
<line x1="501.2" y1="540.5" x2="501.2" y2="541.9" stroke="#666" stroke-width="0.6"/>
<text x="493.5" y="540.5" font-size="3.00" fill="#555" >M2</text>
<text x="404.0" y="494.7" font-size="9.00" fill="#111"  stroke="#111" stroke-width="0.30">tbhp</text>
<text x="463.2" y="514.6" font-size="8.40" fill="#111"  stroke="#111" stroke-width="0.22">41.2%</text>
</svg></body></html>
